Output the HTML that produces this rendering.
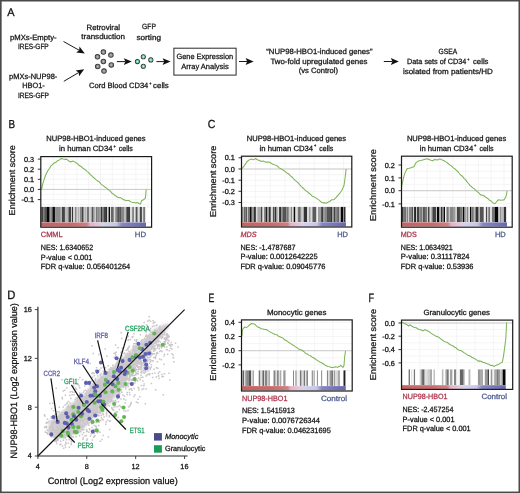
<!DOCTYPE html>
<html><head><meta charset="utf-8"><title>Figure</title>
<style>html,body{margin:0;padding:0;background:#fff;}body{width:520px;height:493px;overflow:hidden;font-family:"Liberation Sans",sans-serif;}svg{display:block;will-change:transform;}</style>
</head><body>
<svg width="520" height="493" viewBox="0 0 520 493" font-family='"Liberation Sans", sans-serif' text-rendering="geometricPrecision"><style>text{stroke-width:0.27px}</style><defs><radialGradient id="gcell" cx="0.5" cy="0.5" r="0.5">
<stop offset="0" stop-color="#c4c4c4"/><stop offset="0.45" stop-color="#8e8e8e"/><stop offset="0.72" stop-color="#5c5c5c"/><stop offset="0.86" stop-color="#303030"/><stop offset="1" stop-color="#2a2a2a"/></radialGradient><radialGradient id="tcell" cx="0.5" cy="0.5" r="0.5">
<stop offset="0" stop-color="#d8f6e8"/><stop offset="0.4" stop-color="#86d2b2"/><stop offset="0.68" stop-color="#4f9a7e"/><stop offset="0.8" stop-color="#2c3c34"/><stop offset="1" stop-color="#222"/></radialGradient><linearGradient id="cbar" x1="0" x2="1" y1="0" y2="0">
<stop offset="0" stop-color="#c66262"/><stop offset="0.30" stop-color="#ca6c6c"/><stop offset="0.44" stop-color="#d27e84"/>
<stop offset="0.47" stop-color="#e4b2c8"/><stop offset="0.55" stop-color="#e6c4dc"/><stop offset="0.59" stop-color="#d6d2ec"/>
<stop offset="0.72" stop-color="#c6c6e6"/><stop offset="0.77" stop-color="#8686c4"/><stop offset="1" stop-color="#6868b2"/></linearGradient><filter id="cblur" x="-10%" y="-10%" width="120%" height="120%"><feGaussianBlur stdDeviation="1.2"/></filter></defs><rect x="0" y="0" width="520" height="493" fill="#ffffff" />
<text x="7.3" y="15.9" font-size="11.2" fill="#141414" stroke="#141414" textLength="7.3" lengthAdjust="spacingAndGlyphs" style="stroke-width:0.3px">A</text>
<text x="10" y="39.5" font-size="7.6" fill="#141414" stroke="#141414" textLength="46.6" lengthAdjust="spacingAndGlyphs" >pMXs-Empty-</text>
<text x="18" y="48.9" font-size="7.6" fill="#141414" stroke="#141414" textLength="30.7" lengthAdjust="spacingAndGlyphs" >IRES-GFP</text>
<text x="9" y="79" font-size="7.6" fill="#141414" stroke="#141414" textLength="48.3" lengthAdjust="spacingAndGlyphs" >pMXs-NUP98-</text>
<text x="22.2" y="88.4" font-size="7.6" fill="#141414" stroke="#141414" textLength="22.6" lengthAdjust="spacingAndGlyphs" >HBO1-</text>
<text x="17.9" y="98.4" font-size="7.6" fill="#141414" stroke="#141414" textLength="31.1" lengthAdjust="spacingAndGlyphs" >IRES-GFP</text>
<text x="86.5" y="29.8" font-size="7.6" fill="#141414" stroke="#141414" textLength="33.5" lengthAdjust="spacingAndGlyphs" >Retroviral</text>
<text x="81.3" y="39.3" font-size="7.6" fill="#141414" stroke="#141414" textLength="43.7" lengthAdjust="spacingAndGlyphs" >transduction</text>
<text x="142.1" y="29.4" font-size="7.6" fill="#141414" stroke="#141414" textLength="13.8" lengthAdjust="spacingAndGlyphs" >GFP</text>
<text x="136.5" y="39.5" font-size="7.6" fill="#141414" stroke="#141414" textLength="24.5" lengthAdjust="spacingAndGlyphs" >sorting</text>
<text x="89" y="87.7" font-size="7.6" fill="#141414" stroke="#141414" textLength="59.3" lengthAdjust="spacingAndGlyphs" >Cord Blood CD34</text>
<text x="149.2" y="84.6" font-size="4.5" fill="#141414" stroke="#141414" textLength="2.2" lengthAdjust="spacingAndGlyphs" >+</text>
<text x="153.1" y="87.7" font-size="7.6" fill="#141414" stroke="#141414" textLength="15.7" lengthAdjust="spacingAndGlyphs" >cells</text>
<text x="176.4" y="59" font-size="7.6" fill="#141414" stroke="#141414" textLength="56.8" lengthAdjust="spacingAndGlyphs" >Gene Expression</text>
<text x="181.2" y="69.1" font-size="7.6" fill="#141414" stroke="#141414" textLength="47.6" lengthAdjust="spacingAndGlyphs" >Array Analysis</text>
<text x="266.3" y="54.1" font-size="7.6" fill="#141414" stroke="#141414" textLength="106.2" lengthAdjust="spacingAndGlyphs" >“NUP98-HBO1-induced genes”</text>
<text x="270.4" y="63.9" font-size="7.6" fill="#141414" stroke="#141414" textLength="97.1" lengthAdjust="spacingAndGlyphs" >Two-fold upregulated genes</text>
<text x="298.7" y="72.6" font-size="7.6" fill="#141414" stroke="#141414" textLength="39.3" lengthAdjust="spacingAndGlyphs" >(vs Control)</text>
<text x="438.5" y="54" font-size="7.6" fill="#141414" stroke="#141414" textLength="18.6" lengthAdjust="spacingAndGlyphs" >GSEA</text>
<text x="407.1" y="64.4" font-size="7.6" fill="#141414" stroke="#141414" textLength="59.2" lengthAdjust="spacingAndGlyphs" >Data sets of CD34</text>
<text x="467.2" y="61.3" font-size="4.5" fill="#141414" stroke="#141414" textLength="2.2" lengthAdjust="spacingAndGlyphs" >+</text>
<text x="473" y="64.4" font-size="7.6" fill="#141414" stroke="#141414" textLength="15.5" lengthAdjust="spacingAndGlyphs" >cells</text>
<text x="402.9" y="73.7" font-size="7.6" fill="#141414" stroke="#141414" textLength="89.8" lengthAdjust="spacingAndGlyphs" >isolated from patients/HD</text>
<rect x="173.9" y="48.2" width="62.2" height="26.9" fill="none" stroke="#2a2a2a" stroke-width="1"/>
<line x1="63.5" y1="41.5" x2="79.21" y2="50.28" stroke="#1a1a1a" stroke-width="1" />
<polygon points="84.8,53.4 76.16,52.47 79.21,50.28 79.47,46.53" fill="#111"/>
<line x1="63.8" y1="81.3" x2="78.68" y2="72.54" stroke="#1a1a1a" stroke-width="1" />
<polygon points="84.2,69.3 79.03,76.29 78.68,72.54 75.58,70.43" fill="#111"/>
<line x1="116.8" y1="61.6" x2="125.4" y2="61.6" stroke="#1a1a1a" stroke-width="1" />
<polygon points="131.8,61.6 123.8,65 125.4,61.6 123.8,58.2" fill="#111"/>
<line x1="156.4" y1="61.6" x2="164.2" y2="61.6" stroke="#1a1a1a" stroke-width="1" />
<polygon points="170.6,61.6 162.6,65 164.2,61.6 162.6,58.2" fill="#111"/>
<line x1="239" y1="61.5" x2="247.2" y2="61.5" stroke="#1a1a1a" stroke-width="1" />
<polygon points="253.6,61.5 245.6,64.9 247.2,61.5 245.6,58.1" fill="#111"/>
<line x1="383.8" y1="61.5" x2="392.4" y2="61.5" stroke="#1a1a1a" stroke-width="1" />
<polygon points="398.8,61.5 390.8,64.9 392.4,61.5 390.8,58.1" fill="#111"/>
<circle cx="103.4" cy="52.1" r="2.75" fill="url(#gcell)"/>
<circle cx="110.9" cy="55.1" r="2.75" fill="url(#gcell)"/>
<circle cx="97.5" cy="56.8" r="2.75" fill="url(#gcell)"/>
<circle cx="103.4" cy="61.5" r="2.75" fill="url(#gcell)"/>
<circle cx="111.3" cy="64.9" r="2.75" fill="url(#gcell)"/>
<circle cx="97.7" cy="66.5" r="2.75" fill="url(#gcell)"/>
<circle cx="104" cy="71.1" r="2.75" fill="url(#gcell)"/>
<circle cx="143.3" cy="56.8" r="2.55" fill="url(#tcell)"/>
<circle cx="137.4" cy="61.6" r="2.55" fill="url(#tcell)"/>
<circle cx="150.8" cy="59.9" r="2.55" fill="url(#tcell)"/>
<circle cx="143.3" cy="66.3" r="2.55" fill="url(#tcell)"/>
<text x="8.5" y="127.9" font-size="11.6" fill="#141414" stroke="#141414" textLength="6.6" lengthAdjust="spacingAndGlyphs" style="stroke-width:0.3px">B</text>
<text x="46.3" y="141.1" font-size="7.6" fill="#141414" stroke="#141414" textLength="99.3" lengthAdjust="spacingAndGlyphs" >NUP98-HBO1-induced genes</text>
<text x="59" y="151.3" font-size="7.6" fill="#141414" stroke="#141414" textLength="53.5" lengthAdjust="spacingAndGlyphs" >in human CD34</text>
<text x="113.4" y="148" font-size="4.6" fill="#141414" stroke="#141414" textLength="2.3" lengthAdjust="spacingAndGlyphs" >+</text>
<text x="118.8" y="151.3" font-size="7.6" fill="#141414" stroke="#141414" textLength="14.1" lengthAdjust="spacingAndGlyphs" >cells</text>
<text transform="translate(14.6,215.4) rotate(-90)" x="0" y="0" font-size="8.6" fill="#141414" stroke="#141414" textLength="70.3" lengthAdjust="spacingAndGlyphs" >Enrichment score</text>
<rect x="40.8" y="156.6" width="110.8" height="70.6" fill="#ffffff" />
<path d="M53.3 156.6V206.9 M65.1 156.6V206.9 M76.9 156.6V206.9 M88.7 156.6V206.9 M100.5 156.6V206.9 M112.3 156.6V206.9 M124.1 156.6V206.9 M135.9 156.6V206.9 M147.7 156.6V206.9 M40.8 159.1H151.6 M40.8 164.15H151.6 M40.8 169.2H151.6 M40.8 174.25H151.6 M40.8 179.3H151.6 M40.8 184.35H151.6 M40.8 189.4H151.6 M40.8 194.45H151.6 M40.8 199.5H151.6 M40.8 204.55H151.6" stroke="#f0f0f0" stroke-width="0.7" fill="none"/>
<line x1="40.8" y1="189.4" x2="151.6" y2="189.4" stroke="#cacaca" stroke-width="1" />
<line x1="146" y1="206.9" x2="151.6" y2="206.9" stroke="#e4e4e4" stroke-width="0.5" />
<line x1="146" y1="222.3" x2="151.6" y2="222.3" stroke="#e4e4e4" stroke-width="0.5" />
<rect x="40.8" y="206.9" width="0.66" height="15.4" fill="rgb(51,51,51)" />
<rect x="41.4" y="206.9" width="1.76" height="15.4" fill="rgb(68,68,68)" />
<rect x="43.1" y="206.9" width="1.16" height="15.4" fill="rgb(119,119,119)" />
<rect x="44.2" y="206.9" width="2.76" height="15.4" fill="rgb(84,84,84)" />
<rect x="46.9" y="206.9" width="2.16" height="15.4" fill="rgb(7,7,7)" />
<rect x="49" y="206.9" width="1.36" height="15.4" fill="rgb(102,102,102)" />
<rect x="50.3" y="206.9" width="1.06" height="15.4" fill="rgb(140,140,140)" />
<rect x="51.3" y="206.9" width="1.26" height="15.4" fill="rgb(102,102,102)" />
<rect x="52.5" y="206.9" width="2.46" height="15.4" fill="rgb(7,7,7)" />
<rect x="54.9" y="206.9" width="0.76" height="15.4" fill="rgb(102,102,102)" />
<rect x="55.6" y="206.9" width="5.26" height="15.4" fill="rgb(142,142,142)" />
<rect x="60.8" y="206.9" width="1.06" height="15.4" fill="rgb(204,204,204)" />
<rect x="61.8" y="206.9" width="3.16" height="15.4" fill="rgb(68,68,68)" />
<rect x="64.9" y="206.9" width="2.86" height="15.4" fill="rgb(186,186,186)" />
<rect x="67.7" y="206.9" width="1.36" height="15.4" fill="rgb(135,135,135)" />
<rect x="69" y="206.9" width="2.26" height="15.4" fill="rgb(68,68,68)" />
<rect x="71.2" y="206.9" width="1.06" height="15.4" fill="rgb(204,204,204)" />
<rect x="72.2" y="206.9" width="1.06" height="15.4" fill="rgb(7,7,7)" />
<rect x="73.2" y="206.9" width="1.86" height="15.4" fill="rgb(216,216,216)" />
<rect x="75" y="206.9" width="1.76" height="15.4" fill="rgb(135,135,135)" />
<rect x="76.7" y="206.9" width="1.16" height="15.4" fill="rgb(219,219,219)" />
<rect x="77.8" y="206.9" width="1.06" height="15.4" fill="rgb(153,153,153)" />
<rect x="78.8" y="206.9" width="1.06" height="15.4" fill="rgb(219,219,219)" />
<rect x="79.8" y="206.9" width="1.86" height="15.4" fill="rgb(135,135,135)" />
<rect x="81.6" y="206.9" width="2.16" height="15.4" fill="rgb(68,68,68)" />
<rect x="83.7" y="206.9" width="1.06" height="15.4" fill="rgb(219,219,219)" />
<rect x="84.7" y="206.9" width="1.06" height="15.4" fill="rgb(135,135,135)" />
<rect x="85.7" y="206.9" width="1.16" height="15.4" fill="rgb(219,219,219)" />
<rect x="86.8" y="206.9" width="2.46" height="15.4" fill="rgb(119,119,119)" />
<rect x="89.2" y="206.9" width="2.46" height="15.4" fill="rgb(204,204,204)" />
<rect x="91.6" y="206.9" width="1.86" height="15.4" fill="rgb(84,84,84)" />
<rect x="93.4" y="206.9" width="1.36" height="15.4" fill="rgb(135,135,135)" />
<rect x="94.7" y="206.9" width="1.16" height="15.4" fill="rgb(219,219,219)" />
<rect x="95.8" y="206.9" width="1.46" height="15.4" fill="rgb(119,119,119)" />
<rect x="97.2" y="206.9" width="1.76" height="15.4" fill="rgb(135,135,135)" />
<rect x="98.9" y="206.9" width="2.16" height="15.4" fill="rgb(153,153,153)" />
<rect x="101" y="206.9" width="1.06" height="15.4" fill="rgb(51,51,51)" />
<rect x="102" y="206.9" width="1.46" height="15.4" fill="rgb(135,135,135)" />
<rect x="103.4" y="206.9" width="2.86" height="15.4" fill="rgb(68,68,68)" />
<rect x="106.2" y="206.9" width="1.06" height="15.4" fill="rgb(7,7,7)" />
<rect x="107.2" y="206.9" width="1.46" height="15.4" fill="rgb(219,219,219)" />
<rect x="108.6" y="206.9" width="1.46" height="15.4" fill="rgb(7,7,7)" />
<rect x="110" y="206.9" width="1.06" height="15.4" fill="rgb(219,219,219)" />
<rect x="111" y="206.9" width="2.86" height="15.4" fill="rgb(102,102,102)" />
<rect x="113.8" y="206.9" width="1.46" height="15.4" fill="rgb(219,219,219)" />
<rect x="115.2" y="206.9" width="2.46" height="15.4" fill="rgb(135,135,135)" />
<rect x="117.6" y="206.9" width="1.16" height="15.4" fill="rgb(7,7,7)" />
<rect x="118.7" y="206.9" width="1.06" height="15.4" fill="rgb(119,119,119)" />
<rect x="119.7" y="206.9" width="1.06" height="15.4" fill="rgb(7,7,7)" />
<rect x="120.7" y="206.9" width="3.86" height="15.4" fill="rgb(135,135,135)" />
<rect x="124.5" y="206.9" width="1.86" height="15.4" fill="rgb(186,186,186)" />
<rect x="126.3" y="206.9" width="3.86" height="15.4" fill="rgb(63,63,63)" />
<rect x="130.1" y="206.9" width="2.16" height="15.4" fill="rgb(219,219,219)" />
<rect x="132.2" y="206.9" width="1.76" height="15.4" fill="rgb(119,119,119)" />
<rect x="133.9" y="206.9" width="1.76" height="15.4" fill="rgb(229,229,229)" />
<rect x="135.6" y="206.9" width="2.16" height="15.4" fill="rgb(84,84,84)" />
<rect x="137.7" y="206.9" width="2.16" height="15.4" fill="rgb(219,219,219)" />
<rect x="139.8" y="206.9" width="2.16" height="15.4" fill="rgb(68,68,68)" />
<rect x="141.9" y="206.9" width="1.36" height="15.4" fill="rgb(219,219,219)" />
<rect x="143.2" y="206.9" width="1.86" height="15.4" fill="rgb(119,119,119)" />
<rect x="145" y="206.9" width="1.06" height="15.4" fill="rgb(229,229,229)" />
<rect x="40.8" y="222.5" width="105.2" height="4.1" fill="url(#cbar)" />
<polyline points="40.8,189.4 41.7,188.56 42.9,183.45 44,179.78 45.8,174.77 48.1,170.21 49.55,168.23 51,165.82 52.4,164.66 53.8,163.32 56.2,162.06 57.6,160.68 59,160.12 61.3,158.43 63.1,159.08 65.4,159.37 66.85,159.34 68.3,160.73 70.6,161.92 72.9,161.04 74.6,161.9 76.13,162.73 77.67,163.83 79.2,165.53 80.73,166.27 82.27,167.55 83.8,168.77 85.37,169.74 86.93,171.3 88.5,172.45 90.03,174.34 91.57,175.58 93.1,177.23 94.63,178.43 96.17,179.91 97.7,181.06 99.2,181.7 100.63,183.58 102.07,184.81 103.5,185.91 104.9,187.02 106.3,187.9 107.7,189.06 109.1,190.34 110.5,191.38 111.9,193.24 113.33,193.98 114.77,195.45 116.2,196.1 117.6,197.25 119,197.78 120.4,197.65 121.8,198.44 123.2,199.67 124.6,199.87 126.03,200.67 127.47,200.47 128.9,200.52 131.5,202.12 132.85,202.6 134.2,202.49 135.7,203.03 137.3,202.55 139.4,203.82 140.5,204.03 141.6,200.56 143.1,199.97 144.2,199.24 145.3,198.1 145.8,194 146.2,189.4" fill="none" stroke="#7db457" stroke-width="1.05" stroke-linejoin="round"/>
<rect x="40.8" y="156.6" width="110.8" height="70.6" fill="none" stroke="#1a1a1a" stroke-width="1.2"/>
<line x1="37.8" y1="159.1" x2="40.8" y2="159.1" stroke="#1a1a1a" stroke-width="0.9" />
<text x="34.2" y="161.7" font-size="7.3" fill="#141414" stroke="#141414" text-anchor="end" >0.3</text>
<line x1="37.8" y1="169.2" x2="40.8" y2="169.2" stroke="#1a1a1a" stroke-width="0.9" />
<text x="34.2" y="171.8" font-size="7.3" fill="#141414" stroke="#141414" text-anchor="end" >0.2</text>
<line x1="37.8" y1="179.3" x2="40.8" y2="179.3" stroke="#1a1a1a" stroke-width="0.9" />
<text x="34.2" y="181.9" font-size="7.3" fill="#141414" stroke="#141414" text-anchor="end" >0.1</text>
<line x1="37.8" y1="189.4" x2="40.8" y2="189.4" stroke="#1a1a1a" stroke-width="0.9" />
<text x="34.2" y="192" font-size="7.3" fill="#141414" stroke="#141414" text-anchor="end" >0.0</text>
<line x1="37.8" y1="199.6" x2="40.8" y2="199.6" stroke="#1a1a1a" stroke-width="0.9" />
<text x="34.2" y="202.2" font-size="7.3" fill="#141414" stroke="#141414" text-anchor="end" >-0.1</text>
<text x="40.8" y="237.2" font-size="7.6" fill="#a8344c" stroke="#a8344c" textLength="21.8" lengthAdjust="spacingAndGlyphs" >CMML</text>
<text x="134.8" y="237.2" font-size="7.6" fill="#4b5a8e" stroke="#4b5a8e" textLength="11.2" lengthAdjust="spacingAndGlyphs" >HD</text>
<text x="40.8" y="250" font-size="7.6" fill="#141414" stroke="#141414" textLength="52.3" lengthAdjust="spacingAndGlyphs" >NES: 1.6340652</text>
<text x="40.8" y="259.6" font-size="7.6" fill="#141414" stroke="#141414" textLength="51.5" lengthAdjust="spacingAndGlyphs" >P-value &lt; 0.001</text>
<text x="40.8" y="268.8" font-size="7.6" fill="#141414" stroke="#141414" textLength="89.4" lengthAdjust="spacingAndGlyphs" >FDR q-value: 0.056401264</text>
<text x="207.8" y="128.1" font-size="11.7" fill="#141414" stroke="#141414" textLength="7.6" lengthAdjust="spacingAndGlyphs" style="stroke-width:0.3px">C</text>
<text x="246.8" y="140.9" font-size="7.6" fill="#141414" stroke="#141414" textLength="99.3" lengthAdjust="spacingAndGlyphs" >NUP98-HBO1-induced genes</text>
<text x="259.6" y="150.6" font-size="7.6" fill="#141414" stroke="#141414" textLength="53.5" lengthAdjust="spacingAndGlyphs" >in human CD34</text>
<text x="314" y="147.3" font-size="4.6" fill="#141414" stroke="#141414" textLength="2.3" lengthAdjust="spacingAndGlyphs" >+</text>
<text x="319.3" y="150.6" font-size="7.6" fill="#141414" stroke="#141414" textLength="14.1" lengthAdjust="spacingAndGlyphs" >cells</text>
<text transform="translate(215.8,217.1) rotate(-90)" x="0" y="0" font-size="8.6" fill="#141414" stroke="#141414" textLength="71.4" lengthAdjust="spacingAndGlyphs" >Enrichment score</text>
<rect x="241.5" y="156.2" width="110.3" height="70.8" fill="#ffffff" />
<path d="M255.6 156.2V206.9 M270.25 156.2V206.9 M284.9 156.2V206.9 M299.55 156.2V206.9 M314.2 156.2V206.9 M328.85 156.2V206.9 M343.5 156.2V206.9 M241.5 157.8H351.8 M241.5 163.4H351.8 M241.5 169H351.8 M241.5 174.6H351.8 M241.5 180.2H351.8 M241.5 185.8H351.8 M241.5 191.4H351.8 M241.5 197H351.8 M241.5 202.6H351.8" stroke="#f0f0f0" stroke-width="0.7" fill="none"/>
<line x1="241.5" y1="169" x2="351.8" y2="169" stroke="#cacaca" stroke-width="1" />
<line x1="346" y1="206.9" x2="351.8" y2="206.9" stroke="#e4e4e4" stroke-width="0.5" />
<line x1="346" y1="222.1" x2="351.8" y2="222.1" stroke="#e4e4e4" stroke-width="0.5" />
<rect x="241.5" y="206.9" width="0.56" height="15.2" fill="rgb(25,25,25)" />
<rect x="242" y="206.9" width="0.76" height="15.2" fill="rgb(51,51,51)" />
<rect x="242.7" y="206.9" width="1.16" height="15.2" fill="rgb(204,204,204)" />
<rect x="243.8" y="206.9" width="1.06" height="15.2" fill="rgb(68,68,68)" />
<rect x="244.8" y="206.9" width="1.06" height="15.2" fill="rgb(135,135,135)" />
<rect x="245.8" y="206.9" width="1.16" height="15.2" fill="rgb(68,68,68)" />
<rect x="246.9" y="206.9" width="1.06" height="15.2" fill="rgb(204,204,204)" />
<rect x="247.9" y="206.9" width="2.16" height="15.2" fill="rgb(119,119,119)" />
<rect x="250" y="206.9" width="1.76" height="15.2" fill="rgb(12,12,12)" />
<rect x="251.7" y="206.9" width="2.16" height="15.2" fill="rgb(153,153,153)" />
<rect x="253.8" y="206.9" width="2.16" height="15.2" fill="rgb(51,51,51)" />
<rect x="255.9" y="206.9" width="1.46" height="15.2" fill="rgb(219,219,219)" />
<rect x="257.3" y="206.9" width="3.86" height="15.2" fill="rgb(168,168,168)" />
<rect x="261.1" y="206.9" width="1.46" height="15.2" fill="rgb(51,51,51)" />
<rect x="262.5" y="206.9" width="1.46" height="15.2" fill="rgb(234,234,234)" />
<rect x="263.9" y="206.9" width="1.76" height="15.2" fill="rgb(135,135,135)" />
<rect x="265.6" y="206.9" width="1.76" height="15.2" fill="rgb(33,33,33)" />
<rect x="267.3" y="206.9" width="1.76" height="15.2" fill="rgb(153,153,153)" />
<rect x="269" y="206.9" width="1.86" height="15.2" fill="rgb(51,51,51)" />
<rect x="270.8" y="206.9" width="2.16" height="15.2" fill="rgb(219,219,219)" />
<rect x="272.9" y="206.9" width="1.06" height="15.2" fill="rgb(68,68,68)" />
<rect x="273.9" y="206.9" width="1.16" height="15.2" fill="rgb(135,135,135)" />
<rect x="275" y="206.9" width="1.06" height="15.2" fill="rgb(51,51,51)" />
<rect x="276" y="206.9" width="1.76" height="15.2" fill="rgb(153,153,153)" />
<rect x="277.7" y="206.9" width="1.46" height="15.2" fill="rgb(219,219,219)" />
<rect x="279.1" y="206.9" width="2.16" height="15.2" fill="rgb(51,51,51)" />
<rect x="281.2" y="206.9" width="1.76" height="15.2" fill="rgb(135,135,135)" />
<rect x="282.9" y="206.9" width="3.56" height="15.2" fill="rgb(84,84,84)" />
<rect x="286.4" y="206.9" width="2.46" height="15.2" fill="rgb(119,119,119)" />
<rect x="288.8" y="206.9" width="2.16" height="15.2" fill="rgb(204,204,204)" />
<rect x="290.9" y="206.9" width="1.46" height="15.2" fill="rgb(135,135,135)" />
<rect x="292.3" y="206.9" width="1.46" height="15.2" fill="rgb(219,219,219)" />
<rect x="293.7" y="206.9" width="1.76" height="15.2" fill="rgb(7,7,7)" />
<rect x="295.4" y="206.9" width="2.46" height="15.2" fill="rgb(219,219,219)" />
<rect x="297.8" y="206.9" width="1.46" height="15.2" fill="rgb(119,119,119)" />
<rect x="299.2" y="206.9" width="1.46" height="15.2" fill="rgb(84,84,84)" />
<rect x="300.6" y="206.9" width="1.06" height="15.2" fill="rgb(153,153,153)" />
<rect x="301.6" y="206.9" width="2.16" height="15.2" fill="rgb(204,204,204)" />
<rect x="303.7" y="206.9" width="3.56" height="15.2" fill="rgb(51,51,51)" />
<rect x="307.2" y="206.9" width="2.06" height="15.2" fill="rgb(219,219,219)" />
<rect x="309.2" y="206.9" width="1.46" height="15.2" fill="rgb(135,135,135)" />
<rect x="310.6" y="206.9" width="1.46" height="15.2" fill="rgb(219,219,219)" />
<rect x="312" y="206.9" width="0.56" height="15.2" fill="rgb(186,186,186)" />
<rect x="312.5" y="206.9" width="4.06" height="15.2" fill="rgb(91,91,91)" />
<rect x="316.5" y="206.9" width="1.46" height="15.2" fill="rgb(249,249,249)" />
<rect x="317.9" y="206.9" width="3.56" height="15.2" fill="rgb(158,158,158)" />
<rect x="321.4" y="206.9" width="1.46" height="15.2" fill="rgb(7,7,7)" />
<rect x="322.8" y="206.9" width="1.46" height="15.2" fill="rgb(153,153,153)" />
<rect x="324.2" y="206.9" width="2.76" height="15.2" fill="rgb(135,135,135)" />
<rect x="326.9" y="206.9" width="4.26" height="15.2" fill="rgb(84,84,84)" />
<rect x="331.1" y="206.9" width="1.06" height="15.2" fill="rgb(33,33,33)" />
<rect x="332.1" y="206.9" width="1.86" height="15.2" fill="rgb(153,153,153)" />
<rect x="333.9" y="206.9" width="1.06" height="15.2" fill="rgb(51,51,51)" />
<rect x="334.9" y="206.9" width="2.86" height="15.2" fill="rgb(135,135,135)" />
<rect x="337.7" y="206.9" width="1.06" height="15.2" fill="rgb(7,7,7)" />
<rect x="338.7" y="206.9" width="2.16" height="15.2" fill="rgb(186,186,186)" />
<rect x="340.8" y="206.9" width="2.46" height="15.2" fill="rgb(7,7,7)" />
<rect x="343.2" y="206.9" width="1.06" height="15.2" fill="rgb(135,135,135)" />
<rect x="344.2" y="206.9" width="1.46" height="15.2" fill="rgb(7,7,7)" />
<rect x="345.6" y="206.9" width="0.46" height="15.2" fill="rgb(249,249,249)" />
<rect x="241.5" y="222.3" width="104.5" height="4.1" fill="url(#cbar)" />
<polyline points="241.5,168.9 241.7,168.78 243.15,167.1 244.6,165.35 246.9,161.73 249.2,159.88 251,159.13 252.7,159.53 253.8,159.67 255.6,158.52 257.3,159.75 259.6,160.45 261.3,161.46 263.1,161.07 264.8,161.73 266.25,162.29 267.7,162.03 270,162.31 272.3,164.01 274.6,164.87 276.9,165.7 279.2,167.85 281.5,169.08 283.25,170.29 285,171.41 286.75,172.97 288.5,173.68 290.2,175.68 291.9,176.98 293.65,178.86 295.4,180.64 296.8,181.7 298.2,182.86 299.6,184.58 301.13,186.33 302.67,187.75 304.2,189.15 305.73,190.69 307.27,191.65 308.8,193.01 310.55,194.44 312.3,196.18 313.83,196.66 315.37,197.62 316.9,198.64 318.43,199.65 319.97,200.93 321.5,202.27 323.07,202.86 324.63,202.78 326.2,203.18 327.9,202.31 329.6,201.52 331.9,199.65 333.7,199.84 336,197.68 338.3,194.85 340.6,192.36 342.3,189.39 344,185.5 344.8,180 345.8,171.9 346.2,169" fill="none" stroke="#7db457" stroke-width="1.05" stroke-linejoin="round"/>
<rect x="241.5" y="156.2" width="110.3" height="70.8" fill="none" stroke="#1a1a1a" stroke-width="1.2"/>
<line x1="238.5" y1="157.8" x2="241.5" y2="157.8" stroke="#1a1a1a" stroke-width="0.9" />
<text x="234.9" y="160.4" font-size="7.3" fill="#141414" stroke="#141414" text-anchor="end" >0.1</text>
<line x1="238.5" y1="169" x2="241.5" y2="169" stroke="#1a1a1a" stroke-width="0.9" />
<text x="234.9" y="171.6" font-size="7.3" fill="#141414" stroke="#141414" text-anchor="end" >0.0</text>
<line x1="238.5" y1="180.2" x2="241.5" y2="180.2" stroke="#1a1a1a" stroke-width="0.9" />
<text x="234.9" y="182.8" font-size="7.3" fill="#141414" stroke="#141414" text-anchor="end" >-0.1</text>
<line x1="238.5" y1="191.3" x2="241.5" y2="191.3" stroke="#1a1a1a" stroke-width="0.9" />
<text x="234.9" y="193.9" font-size="7.3" fill="#141414" stroke="#141414" text-anchor="end" >-0.2</text>
<line x1="238.5" y1="202.5" x2="241.5" y2="202.5" stroke="#1a1a1a" stroke-width="0.9" />
<text x="234.9" y="205.1" font-size="7.3" fill="#141414" stroke="#141414" text-anchor="end" >-0.3</text>
<text x="240.6" y="237.2" font-size="7.6" fill="#a8344c" stroke="#a8344c" textLength="16" lengthAdjust="spacingAndGlyphs" font-style="italic" >MDS</text>
<text x="337.2" y="237.2" font-size="7.6" fill="#4b5a8e" stroke="#4b5a8e" textLength="10.8" lengthAdjust="spacingAndGlyphs" >HD</text>
<text x="240.4" y="249.6" font-size="7.6" fill="#141414" stroke="#141414" textLength="55.2" lengthAdjust="spacingAndGlyphs" >NES: -1.4787687</text>
<text x="240.4" y="259.2" font-size="7.6" fill="#141414" stroke="#141414" textLength="77.3" lengthAdjust="spacingAndGlyphs" >P-value: 0.0012642225</text>
<text x="240.4" y="268.8" font-size="7.6" fill="#141414" stroke="#141414" textLength="85" lengthAdjust="spacingAndGlyphs" >FDR q-value: 0.09045776</text>
<text x="406.9" y="140.9" font-size="7.6" fill="#141414" stroke="#141414" textLength="99.3" lengthAdjust="spacingAndGlyphs" >NUP98-HBO1-induced genes</text>
<text x="419.7" y="150.5" font-size="7.6" fill="#141414" stroke="#141414" textLength="53.5" lengthAdjust="spacingAndGlyphs" >in human CD34</text>
<text x="474.1" y="147.2" font-size="4.6" fill="#141414" stroke="#141414" textLength="2.3" lengthAdjust="spacingAndGlyphs" >+</text>
<text x="479.4" y="150.5" font-size="7.6" fill="#141414" stroke="#141414" textLength="14.1" lengthAdjust="spacingAndGlyphs" >cells</text>
<text transform="translate(376.2,221.1) rotate(-90)" x="0" y="0" font-size="8.6" fill="#141414" stroke="#141414" textLength="72" lengthAdjust="spacingAndGlyphs" >Enrichment score</text>
<rect x="401.5" y="156.2" width="110.7" height="71" fill="#ffffff" />
<path d="M414.4 156.2V206.9 M427.2 156.2V206.9 M440 156.2V206.9 M452.8 156.2V206.9 M465.6 156.2V206.9 M478.4 156.2V206.9 M491.2 156.2V206.9 M504 156.2V206.9 M401.5 158.55H512.2 M401.5 165H512.2 M401.5 171.45H512.2 M401.5 177.9H512.2 M401.5 184.35H512.2 M401.5 190.8H512.2 M401.5 197.25H512.2 M401.5 203.7H512.2" stroke="#f0f0f0" stroke-width="0.7" fill="none"/>
<line x1="401.5" y1="190.7" x2="512.2" y2="190.7" stroke="#cacaca" stroke-width="1" />
<line x1="507" y1="206.9" x2="512.2" y2="206.9" stroke="#e4e4e4" stroke-width="0.5" />
<line x1="507" y1="222.2" x2="512.2" y2="222.2" stroke="#e4e4e4" stroke-width="0.5" />
<rect x="401.5" y="206.9" width="0.56" height="15.3" fill="rgb(25,25,25)" />
<rect x="402" y="206.9" width="1.46" height="15.3" fill="rgb(51,51,51)" />
<rect x="403.4" y="206.9" width="1.16" height="15.3" fill="rgb(102,102,102)" />
<rect x="404.5" y="206.9" width="1.36" height="15.3" fill="rgb(68,68,68)" />
<rect x="405.8" y="206.9" width="1.16" height="15.3" fill="rgb(186,186,186)" />
<rect x="406.9" y="206.9" width="1.06" height="15.3" fill="rgb(119,119,119)" />
<rect x="407.9" y="206.9" width="1.16" height="15.3" fill="rgb(204,204,204)" />
<rect x="409" y="206.9" width="2.46" height="15.3" fill="rgb(135,135,135)" />
<rect x="411.4" y="206.9" width="1.76" height="15.3" fill="rgb(84,84,84)" />
<rect x="413.1" y="206.9" width="1.16" height="15.3" fill="rgb(204,204,204)" />
<rect x="414.2" y="206.9" width="1.76" height="15.3" fill="rgb(7,7,7)" />
<rect x="415.9" y="206.9" width="1.06" height="15.3" fill="rgb(219,219,219)" />
<rect x="416.9" y="206.9" width="2.56" height="15.3" fill="rgb(68,68,68)" />
<rect x="419.4" y="206.9" width="1.06" height="15.3" fill="rgb(135,135,135)" />
<rect x="420.4" y="206.9" width="1.46" height="15.3" fill="rgb(84,84,84)" />
<rect x="421.8" y="206.9" width="1.06" height="15.3" fill="rgb(186,186,186)" />
<rect x="422.8" y="206.9" width="2.16" height="15.3" fill="rgb(84,84,84)" />
<rect x="424.9" y="206.9" width="2.16" height="15.3" fill="rgb(119,119,119)" />
<rect x="427" y="206.9" width="1.06" height="15.3" fill="rgb(204,204,204)" />
<rect x="428" y="206.9" width="1.46" height="15.3" fill="rgb(68,68,68)" />
<rect x="429.4" y="206.9" width="1.06" height="15.3" fill="rgb(135,135,135)" />
<rect x="430.4" y="206.9" width="1.16" height="15.3" fill="rgb(219,219,219)" />
<rect x="431.5" y="206.9" width="1.06" height="15.3" fill="rgb(119,119,119)" />
<rect x="432.5" y="206.9" width="0.86" height="15.3" fill="rgb(68,68,68)" />
<rect x="433.3" y="206.9" width="0.76" height="15.3" fill="rgb(12,12,12)" />
<rect x="434" y="206.9" width="2.06" height="15.3" fill="rgb(68,68,68)" />
<rect x="436" y="206.9" width="1.06" height="15.3" fill="rgb(198,198,198)" />
<rect x="437" y="206.9" width="2.56" height="15.3" fill="rgb(7,7,7)" />
<rect x="439.5" y="206.9" width="1.36" height="15.3" fill="rgb(204,204,204)" />
<rect x="440.8" y="206.9" width="1.46" height="15.3" fill="rgb(51,51,51)" />
<rect x="442.2" y="206.9" width="1.86" height="15.3" fill="rgb(119,119,119)" />
<rect x="444" y="206.9" width="1.06" height="15.3" fill="rgb(7,7,7)" />
<rect x="445" y="206.9" width="1.46" height="15.3" fill="rgb(242,242,242)" />
<rect x="446.4" y="206.9" width="2.46" height="15.3" fill="rgb(119,119,119)" />
<rect x="448.8" y="206.9" width="1.06" height="15.3" fill="rgb(204,204,204)" />
<rect x="449.8" y="206.9" width="3.26" height="15.3" fill="rgb(135,135,135)" />
<rect x="453" y="206.9" width="2.76" height="15.3" fill="rgb(153,153,153)" />
<rect x="455.7" y="206.9" width="1.16" height="15.3" fill="rgb(242,242,242)" />
<rect x="456.8" y="206.9" width="3.16" height="15.3" fill="rgb(68,68,68)" />
<rect x="459.9" y="206.9" width="2.16" height="15.3" fill="rgb(119,119,119)" />
<rect x="462" y="206.9" width="0.76" height="15.3" fill="rgb(204,204,204)" />
<rect x="462.7" y="206.9" width="1.36" height="15.3" fill="rgb(7,7,7)" />
<rect x="464" y="206.9" width="1.86" height="15.3" fill="rgb(135,135,135)" />
<rect x="465.8" y="206.9" width="1.06" height="15.3" fill="rgb(204,204,204)" />
<rect x="466.8" y="206.9" width="1.76" height="15.3" fill="rgb(135,135,135)" />
<rect x="468.5" y="206.9" width="1.56" height="15.3" fill="rgb(219,219,219)" />
<rect x="470" y="206.9" width="1.36" height="15.3" fill="rgb(7,7,7)" />
<rect x="471.3" y="206.9" width="0.66" height="15.3" fill="rgb(127,127,127)" />
<rect x="471.9" y="206.9" width="1.96" height="15.3" fill="rgb(119,119,119)" />
<rect x="473.8" y="206.9" width="1.76" height="15.3" fill="rgb(186,186,186)" />
<rect x="475.5" y="206.9" width="3.16" height="15.3" fill="rgb(51,51,51)" />
<rect x="478.6" y="206.9" width="1.46" height="15.3" fill="rgb(186,186,186)" />
<rect x="480" y="206.9" width="3.86" height="15.3" fill="rgb(84,84,84)" />
<rect x="483.8" y="206.9" width="2.16" height="15.3" fill="rgb(242,242,242)" />
<rect x="485.9" y="206.9" width="1.06" height="15.3" fill="rgb(51,51,51)" />
<rect x="486.9" y="206.9" width="1.46" height="15.3" fill="rgb(204,204,204)" />
<rect x="488.3" y="206.9" width="2.16" height="15.3" fill="rgb(119,119,119)" />
<rect x="490.4" y="206.9" width="1.46" height="15.3" fill="rgb(242,242,242)" />
<rect x="491.8" y="206.9" width="3.16" height="15.3" fill="rgb(119,119,119)" />
<rect x="494.9" y="206.9" width="3.56" height="15.3" fill="rgb(7,7,7)" />
<rect x="498.4" y="206.9" width="1.76" height="15.3" fill="rgb(204,204,204)" />
<rect x="500.1" y="206.9" width="1.46" height="15.3" fill="rgb(135,135,135)" />
<rect x="501.5" y="206.9" width="2.46" height="15.3" fill="rgb(186,186,186)" />
<rect x="503.9" y="206.9" width="2.46" height="15.3" fill="rgb(51,51,51)" />
<rect x="506.3" y="206.9" width="0.76" height="15.3" fill="rgb(249,249,249)" />
<rect x="401.5" y="222.4" width="105.5" height="4.1" fill="url(#cbar)" />
<polyline points="401.5,190.8 401.7,186.16 402.9,180.43 404.6,173.91 406.3,170.11 407.5,168.4 409.2,168.31 410,168.12 412.3,167.28 414,166.83 415.2,164.15 416.3,162.36 418.7,160.89 421,160.6 422.7,160.09 425,159.21 427.3,158.75 429.6,159.71 431.05,160.32 432.5,160.8 434.8,159.53 436.25,159.67 437.7,160.01 439.8,158.87 442.3,160.08 444.6,161.09 446.35,162.16 448.1,163.53 449.8,164.92 451.5,165.88 453.07,167.66 454.63,168.71 456.2,170.23 457.73,171.39 459.27,173.51 460.8,175.27 462.5,176.31 464.2,178.57 465.63,179.84 467.07,181.9 468.5,183.49 469.9,185.36 471.3,186.47 472.7,187.86 474.1,188.48 475.5,190.16 476.9,191.38 478.75,192.91 480.6,194.97 481.95,195.11 483.3,195.2 484.9,196.75 486.5,197.68 488.05,198.69 489.6,200.31 491.2,201.09 492.8,202.75 494.9,203.75 497,201.25 498.6,199.73 500.7,200.33 502.3,199.93 503.9,200.06 505.5,197.5 506.6,194.3 507,190.8" fill="none" stroke="#7db457" stroke-width="1.05" stroke-linejoin="round"/>
<rect x="401.5" y="156.2" width="110.7" height="71" fill="none" stroke="#1a1a1a" stroke-width="1.2"/>
<line x1="398.5" y1="165" x2="401.5" y2="165" stroke="#1a1a1a" stroke-width="0.9" />
<text x="394.9" y="167.6" font-size="7.3" fill="#141414" stroke="#141414" text-anchor="end" >0.2</text>
<line x1="398.5" y1="177.9" x2="401.5" y2="177.9" stroke="#1a1a1a" stroke-width="0.9" />
<text x="394.9" y="180.5" font-size="7.3" fill="#141414" stroke="#141414" text-anchor="end" >0.1</text>
<line x1="398.5" y1="190.7" x2="401.5" y2="190.7" stroke="#1a1a1a" stroke-width="0.9" />
<text x="394.9" y="193.3" font-size="7.3" fill="#141414" stroke="#141414" text-anchor="end" >0.0</text>
<line x1="398.5" y1="203.9" x2="401.5" y2="203.9" stroke="#1a1a1a" stroke-width="0.9" />
<text x="394.9" y="206.5" font-size="7.3" fill="#141414" stroke="#141414" text-anchor="end" >-0.1</text>
<text x="400.8" y="237" font-size="7.6" fill="#a8344c" stroke="#a8344c" textLength="15.9" lengthAdjust="spacingAndGlyphs" >MDS</text>
<text x="494.9" y="237" font-size="7.6" fill="#4b5a8e" stroke="#4b5a8e" textLength="10.8" lengthAdjust="spacingAndGlyphs" >HD</text>
<text x="400.8" y="249.6" font-size="7.6" fill="#141414" stroke="#141414" textLength="51.9" lengthAdjust="spacingAndGlyphs" >NES: 1.0634921</text>
<text x="400.8" y="259.2" font-size="7.6" fill="#141414" stroke="#141414" textLength="68.8" lengthAdjust="spacingAndGlyphs" >P-value: 0.31117824</text>
<text x="400.8" y="268.8" font-size="7.6" fill="#141414" stroke="#141414" textLength="72.7" lengthAdjust="spacingAndGlyphs" >FDR q-value: 0.53936</text>
<text x="208.5" y="301.9" font-size="12.3" fill="#141414" stroke="#141414" textLength="5.8" lengthAdjust="spacingAndGlyphs" style="stroke-width:0.3px">E</text>
<text x="266.9" y="314.6" font-size="7.6" fill="#141414" stroke="#141414" textLength="59.6" lengthAdjust="spacingAndGlyphs" >Monocytic genes</text>
<text transform="translate(215.8,380.7) rotate(-90)" x="0" y="0" font-size="8.6" fill="#141414" stroke="#141414" textLength="71.6" lengthAdjust="spacingAndGlyphs" >Enrichment score</text>
<rect x="241.5" y="319.9" width="110.7" height="71.1" fill="#ffffff" />
<path d="M259.7 319.9V370.4 M278 319.9V370.4 M296.3 319.9V370.4 M314.6 319.9V370.4 M332.9 319.9V370.4 M241.5 322.3H352.2 M241.5 329.4H352.2 M241.5 336.5H352.2 M241.5 343.6H352.2 M241.5 350.7H352.2 M241.5 357.8H352.2 M241.5 364.9H352.2" stroke="#f0f0f0" stroke-width="0.7" fill="none"/>
<line x1="241.5" y1="350.7" x2="352.2" y2="350.7" stroke="#cacaca" stroke-width="1" />
<line x1="345.8" y1="370.4" x2="352.2" y2="370.4" stroke="#e4e4e4" stroke-width="0.5" />
<line x1="345.8" y1="385.9" x2="352.2" y2="385.9" stroke="#e4e4e4" stroke-width="0.5" />
<rect x="241.5" y="370.4" width="0.56" height="15.5" fill="rgb(153,153,153)" />
<rect x="242" y="370.4" width="1.16" height="15.5" fill="rgb(170,170,170)" />
<rect x="243.1" y="370.4" width="1.06" height="15.5" fill="rgb(84,84,84)" />
<rect x="244.1" y="370.4" width="1.16" height="15.5" fill="rgb(221,221,221)" />
<rect x="245.2" y="370.4" width="1.06" height="15.5" fill="rgb(153,153,153)" />
<rect x="246.2" y="370.4" width="2.46" height="15.5" fill="rgb(135,135,135)" />
<rect x="248.6" y="370.4" width="2.46" height="15.5" fill="rgb(84,84,84)" />
<rect x="251" y="370.4" width="1.86" height="15.5" fill="rgb(221,221,221)" />
<rect x="252.8" y="370.4" width="1.06" height="15.5" fill="rgb(135,135,135)" />
<rect x="253.8" y="370.4" width="4.96" height="15.5" fill="rgb(255,255,255)" />
<rect x="258.7" y="370.4" width="1.76" height="15.5" fill="rgb(119,119,119)" />
<rect x="260.4" y="370.4" width="2.16" height="15.5" fill="rgb(221,221,221)" />
<rect x="262.5" y="370.4" width="1.46" height="15.5" fill="rgb(84,84,84)" />
<rect x="263.9" y="370.4" width="1.06" height="15.5" fill="rgb(221,221,221)" />
<rect x="264.9" y="370.4" width="2.16" height="15.5" fill="rgb(135,135,135)" />
<rect x="267" y="370.4" width="1.46" height="15.5" fill="rgb(204,204,204)" />
<rect x="268.4" y="370.4" width="1.76" height="15.5" fill="rgb(170,170,170)" />
<rect x="270.1" y="370.4" width="3.46" height="15.5" fill="rgb(255,255,255)" />
<rect x="273.5" y="370.4" width="2.16" height="15.5" fill="rgb(135,135,135)" />
<rect x="275.6" y="370.4" width="1.46" height="15.5" fill="rgb(221,221,221)" />
<rect x="277" y="370.4" width="1.86" height="15.5" fill="rgb(135,135,135)" />
<rect x="278.8" y="370.4" width="1.46" height="15.5" fill="rgb(221,221,221)" />
<rect x="280.2" y="370.4" width="1.36" height="15.5" fill="rgb(153,153,153)" />
<rect x="281.5" y="370.4" width="1.86" height="15.5" fill="rgb(255,255,255)" />
<rect x="283.3" y="370.4" width="2.46" height="15.5" fill="rgb(153,153,153)" />
<rect x="285.7" y="370.4" width="7.36" height="15.5" fill="rgb(255,255,255)" />
<rect x="293" y="370.4" width="1.06" height="15.5" fill="rgb(135,135,135)" />
<rect x="294" y="370.4" width="1.06" height="15.5" fill="rgb(255,255,255)" />
<rect x="295" y="370.4" width="2.16" height="15.5" fill="rgb(186,186,186)" />
<rect x="297.1" y="370.4" width="2.86" height="15.5" fill="rgb(242,242,242)" />
<rect x="299.9" y="370.4" width="1.76" height="15.5" fill="rgb(119,119,119)" />
<rect x="301.6" y="370.4" width="2.16" height="15.5" fill="rgb(221,221,221)" />
<rect x="303.7" y="370.4" width="1.46" height="15.5" fill="rgb(119,119,119)" />
<rect x="305.1" y="370.4" width="1.46" height="15.5" fill="rgb(229,229,229)" />
<rect x="306.5" y="370.4" width="1.46" height="15.5" fill="rgb(119,119,119)" />
<rect x="307.9" y="370.4" width="3.86" height="15.5" fill="rgb(255,255,255)" />
<rect x="311.7" y="370.4" width="1.46" height="15.5" fill="rgb(153,153,153)" />
<rect x="313.1" y="370.4" width="0.76" height="15.5" fill="rgb(221,221,221)" />
<rect x="313.8" y="370.4" width="1.06" height="15.5" fill="rgb(153,153,153)" />
<rect x="314.8" y="370.4" width="2.16" height="15.5" fill="rgb(255,255,255)" />
<rect x="316.9" y="370.4" width="1.06" height="15.5" fill="rgb(135,135,135)" />
<rect x="317.9" y="370.4" width="3.16" height="15.5" fill="rgb(255,255,255)" />
<rect x="321" y="370.4" width="1.46" height="15.5" fill="rgb(153,153,153)" />
<rect x="322.4" y="370.4" width="4.56" height="15.5" fill="rgb(255,255,255)" />
<rect x="326.9" y="370.4" width="1.16" height="15.5" fill="rgb(135,135,135)" />
<rect x="328" y="370.4" width="1.76" height="15.5" fill="rgb(221,221,221)" />
<rect x="329.7" y="370.4" width="1.56" height="15.5" fill="rgb(153,153,153)" />
<rect x="331.2" y="370.4" width="2.06" height="15.5" fill="rgb(119,119,119)" />
<rect x="333.2" y="370.4" width="1.06" height="15.5" fill="rgb(221,221,221)" />
<rect x="334.2" y="370.4" width="1.06" height="15.5" fill="rgb(135,135,135)" />
<rect x="335.2" y="370.4" width="2.56" height="15.5" fill="rgb(221,221,221)" />
<rect x="337.7" y="370.4" width="2.46" height="15.5" fill="rgb(170,170,170)" />
<rect x="340.1" y="370.4" width="3.46" height="15.5" fill="rgb(255,255,255)" />
<rect x="343.5" y="370.4" width="1.86" height="15.5" fill="rgb(33,33,33)" />
<rect x="345.3" y="370.4" width="0.56" height="15.5" fill="rgb(153,153,153)" />
<rect x="241.5" y="386.1" width="104.3" height="4.2" fill="url(#cbar)" />
<polyline points="241.5,336.5 242.1,335.06 242.5,329.54 243.5,328.28 244.6,327.09 246.3,327.61 248.1,326.31 249.8,324.76 251.5,323.5 253.3,323.78 255,324.46 257.3,326.75 259.6,327.77 261.3,328.7 263.1,328.98 264.8,329.53 266.5,329.49 268.25,330.82 270,331.93 271.75,332.62 273.5,333.82 275.2,334.5 276.9,334.71 278.43,336.17 279.97,336.85 281.5,337.42 283.07,338.14 284.63,339.86 286.2,340.48 287.73,341.66 289.27,342.77 290.8,343.59 292.33,344.85 293.87,345.44 295.4,346.87 296.8,347.42 298.2,348.73 299.6,349.54 301.13,349.8 302.67,350.81 304.2,351.85 305.73,353.49 307.27,353.98 308.8,355.11 310.37,355.79 311.93,356.94 313.5,357.8 315.03,358.73 316.57,359.91 318.1,360.88 319.63,361.93 321.17,362.5 322.7,363.49 324.45,364.57 326.2,365.84 327.9,366.4 329.6,366.8 331.35,367.42 333.1,367.52 335.4,366.66 337.7,367.16 339.15,366.54 340.6,365.34 342.9,367.4 344,365.47 344.6,357.3 345.5,351 345.7,350.8" fill="none" stroke="#7db457" stroke-width="1.05" stroke-linejoin="round"/>
<rect x="241.5" y="319.9" width="110.7" height="71.1" fill="none" stroke="#1a1a1a" stroke-width="1.2"/>
<line x1="238.5" y1="322.3" x2="241.5" y2="322.3" stroke="#1a1a1a" stroke-width="0.9" />
<text x="234.9" y="324.9" font-size="7.3" fill="#141414" stroke="#141414" text-anchor="end" >0.4</text>
<line x1="238.5" y1="336.5" x2="241.5" y2="336.5" stroke="#1a1a1a" stroke-width="0.9" />
<text x="234.9" y="339.1" font-size="7.3" fill="#141414" stroke="#141414" text-anchor="end" >0.2</text>
<line x1="238.5" y1="350.7" x2="241.5" y2="350.7" stroke="#1a1a1a" stroke-width="0.9" />
<text x="234.9" y="353.3" font-size="7.3" fill="#141414" stroke="#141414" text-anchor="end" >0.0</text>
<line x1="238.5" y1="364.9" x2="241.5" y2="364.9" stroke="#1a1a1a" stroke-width="0.9" />
<text x="234.9" y="367.5" font-size="7.3" fill="#141414" stroke="#141414" text-anchor="end" >-0.2</text>
<text x="242" y="401.2" font-size="7.6" fill="#a8344c" stroke="#a8344c" textLength="45.4" lengthAdjust="spacingAndGlyphs" >NUP98-HBO1</text>
<text x="320.9" y="401.2" font-size="7.6" fill="#4b5a8e" stroke="#4b5a8e" textLength="26.1" lengthAdjust="spacingAndGlyphs" >Control</text>
<text x="242" y="413.4" font-size="7.6" fill="#141414" stroke="#141414" textLength="52.8" lengthAdjust="spacingAndGlyphs" >NES: 1.5415913</text>
<text x="242" y="423.3" font-size="7.6" fill="#141414" stroke="#141414" textLength="77.9" lengthAdjust="spacingAndGlyphs" >P-value: 0.0076726344</text>
<text x="242" y="432.9" font-size="7.6" fill="#141414" stroke="#141414" textLength="88.8" lengthAdjust="spacingAndGlyphs" >FDR q-value: 0.046231695</text>
<text x="368.6" y="301.9" font-size="12.3" fill="#141414" stroke="#141414" textLength="5.6" lengthAdjust="spacingAndGlyphs" style="stroke-width:0.3px">F</text>
<text x="423.4" y="315" font-size="7.6" fill="#141414" stroke="#141414" textLength="66.5" lengthAdjust="spacingAndGlyphs" >Granulocytic genes</text>
<text transform="translate(376,380.3) rotate(-90)" x="0" y="0" font-size="8.6" fill="#141414" stroke="#141414" textLength="71.3" lengthAdjust="spacingAndGlyphs" >Enrichment score</text>
<rect x="401.5" y="320.1" width="111.2" height="69.3" fill="#ffffff" />
<path d="M419.8 320.1V369.4 M438.2 320.1V369.4 M456.6 320.1V369.4 M475 320.1V369.4 M493.4 320.1V369.4 M401.5 323H512.7 M401.5 329.6H512.7 M401.5 336.2H512.7 M401.5 342.8H512.7 M401.5 349.4H512.7 M401.5 356H512.7 M401.5 362.6H512.7" stroke="#f0f0f0" stroke-width="0.7" fill="none"/>
<line x1="401.5" y1="323" x2="512.7" y2="323" stroke="#cacaca" stroke-width="1" />
<line x1="505.8" y1="369.4" x2="512.7" y2="369.4" stroke="#e4e4e4" stroke-width="0.5" />
<line x1="505.8" y1="385" x2="512.7" y2="385" stroke="#e4e4e4" stroke-width="0.5" />
<rect x="401.5" y="369.4" width="0.96" height="15.6" fill="rgb(127,127,127)" />
<rect x="402.4" y="369.4" width="6.26" height="15.6" fill="rgb(255,255,255)" />
<rect x="408.6" y="369.4" width="1.46" height="15.6" fill="rgb(119,119,119)" />
<rect x="410" y="369.4" width="1.46" height="15.6" fill="rgb(255,255,255)" />
<rect x="411.4" y="369.4" width="1.06" height="15.6" fill="rgb(204,204,204)" />
<rect x="412.4" y="369.4" width="1.46" height="15.6" fill="rgb(255,255,255)" />
<rect x="413.8" y="369.4" width="1.46" height="15.6" fill="rgb(119,119,119)" />
<rect x="415.2" y="369.4" width="4.56" height="15.6" fill="rgb(255,255,255)" />
<rect x="419.7" y="369.4" width="1.46" height="15.6" fill="rgb(204,204,204)" />
<rect x="421.1" y="369.4" width="1.06" height="15.6" fill="rgb(153,153,153)" />
<rect x="422.1" y="369.4" width="2.16" height="15.6" fill="rgb(102,102,102)" />
<rect x="424.2" y="369.4" width="1.06" height="15.6" fill="rgb(170,170,170)" />
<rect x="425.2" y="369.4" width="2.56" height="15.6" fill="rgb(221,221,221)" />
<rect x="427.7" y="369.4" width="1.06" height="15.6" fill="rgb(186,186,186)" />
<rect x="428.7" y="369.4" width="1.76" height="15.6" fill="rgb(204,204,204)" />
<rect x="430.4" y="369.4" width="1.46" height="15.6" fill="rgb(135,135,135)" />
<rect x="431.8" y="369.4" width="1.76" height="15.6" fill="rgb(255,255,255)" />
<rect x="433.5" y="369.4" width="1.46" height="15.6" fill="rgb(186,186,186)" />
<rect x="434.9" y="369.4" width="7.06" height="15.6" fill="rgb(255,255,255)" />
<rect x="441.9" y="369.4" width="1.76" height="15.6" fill="rgb(186,186,186)" />
<rect x="443.6" y="369.4" width="1.46" height="15.6" fill="rgb(255,255,255)" />
<rect x="445" y="369.4" width="1.46" height="15.6" fill="rgb(204,204,204)" />
<rect x="446.4" y="369.4" width="2.46" height="15.6" fill="rgb(119,119,119)" />
<rect x="448.8" y="369.4" width="1.16" height="15.6" fill="rgb(255,255,255)" />
<rect x="449.9" y="369.4" width="2.76" height="15.6" fill="rgb(165,165,165)" />
<rect x="452.6" y="369.4" width="1.46" height="15.6" fill="rgb(255,255,255)" />
<rect x="454" y="369.4" width="2.16" height="15.6" fill="rgb(135,135,135)" />
<rect x="456.1" y="369.4" width="0.76" height="15.6" fill="rgb(221,221,221)" />
<rect x="456.8" y="369.4" width="3.16" height="15.6" fill="rgb(247,247,247)" />
<rect x="459.9" y="369.4" width="3.86" height="15.6" fill="rgb(102,102,102)" />
<rect x="463.7" y="369.4" width="1.46" height="15.6" fill="rgb(204,204,204)" />
<rect x="465.1" y="369.4" width="3.46" height="15.6" fill="rgb(255,255,255)" />
<rect x="468.5" y="369.4" width="2.16" height="15.6" fill="rgb(186,186,186)" />
<rect x="470.6" y="369.4" width="7.36" height="15.6" fill="rgb(255,255,255)" />
<rect x="477.9" y="369.4" width="2.16" height="15.6" fill="rgb(153,153,153)" />
<rect x="480" y="369.4" width="3.16" height="15.6" fill="rgb(170,170,170)" />
<rect x="483.1" y="369.4" width="1.76" height="15.6" fill="rgb(255,255,255)" />
<rect x="484.8" y="369.4" width="2.86" height="15.6" fill="rgb(153,153,153)" />
<rect x="487.6" y="369.4" width="1.46" height="15.6" fill="rgb(68,68,68)" />
<rect x="489" y="369.4" width="1.76" height="15.6" fill="rgb(255,255,255)" />
<rect x="490.7" y="369.4" width="1.86" height="15.6" fill="rgb(153,153,153)" />
<rect x="492.5" y="369.4" width="1.76" height="15.6" fill="rgb(242,242,242)" />
<rect x="494.2" y="369.4" width="2.46" height="15.6" fill="rgb(170,170,170)" />
<rect x="496.6" y="369.4" width="2.16" height="15.6" fill="rgb(119,119,119)" />
<rect x="498.7" y="369.4" width="1.46" height="15.6" fill="rgb(153,153,153)" />
<rect x="500.1" y="369.4" width="1.46" height="15.6" fill="rgb(204,204,204)" />
<rect x="501.5" y="369.4" width="1.46" height="15.6" fill="rgb(153,153,153)" />
<rect x="502.9" y="369.4" width="2.76" height="15.6" fill="rgb(7,7,7)" />
<rect x="505.6" y="369.4" width="0.26" height="15.6" fill="rgb(255,255,255)" />
<rect x="401.5" y="385.2" width="104.3" height="3.8" fill="url(#cbar)" />
<polyline points="401.5,322.4 402.3,322.36 404.6,323.44 406.9,324.81 408.7,325.99 409.8,324.81 412.1,326.21 414.4,327.58 416.2,327.77 418.5,329.24 420.8,329.85 423.1,330.93 424.8,329.6 426.25,330.26 427.7,330.95 429.45,331.89 431.2,333.38 432.9,334.35 434.6,335.38 436.13,336.27 437.67,336.62 439.2,337.63 440.73,338.91 442.27,340.01 443.8,341.12 445.37,342.01 446.93,342.16 448.5,343.5 450.03,344.52 451.57,345.34 453.1,346.01 454.63,347.24 456.17,347.86 457.7,349.59 459.25,350.18 460.8,350.54 462.23,351.2 463.65,352.62 465.07,353.19 466.5,354.34 467.95,355.19 469.4,355.76 470.85,356.55 472.3,357.59 473.75,358.29 475.2,358.9 476.65,359.87 478.1,361.18 479.63,360.89 481.17,361.29 482.7,362.21 484.23,362.5 485.77,363.33 487.3,363.87 488.83,364.29 490.37,365.41 491.9,365.23 494.2,366.42 496.5,365.03 498.25,364.57 500,363.4 502.3,362.27 503.5,356.32 504.6,347.84 505.8,338.8 506.3,329.5 506.6,322.6" fill="none" stroke="#7db457" stroke-width="1.05" stroke-linejoin="round"/>
<rect x="401.5" y="320.1" width="111.2" height="69.3" fill="none" stroke="#1a1a1a" stroke-width="1.2"/>
<line x1="398.5" y1="323" x2="401.5" y2="323" stroke="#1a1a1a" stroke-width="0.9" />
<text x="394.9" y="325.6" font-size="7.3" fill="#141414" stroke="#141414" text-anchor="end" >0.0</text>
<line x1="398.5" y1="336.2" x2="401.5" y2="336.2" stroke="#1a1a1a" stroke-width="0.9" />
<text x="394.9" y="338.8" font-size="7.3" fill="#141414" stroke="#141414" text-anchor="end" >-0.2</text>
<line x1="398.5" y1="349.6" x2="401.5" y2="349.6" stroke="#1a1a1a" stroke-width="0.9" />
<text x="394.9" y="352.2" font-size="7.3" fill="#141414" stroke="#141414" text-anchor="end" >-0.4</text>
<line x1="398.5" y1="362.9" x2="401.5" y2="362.9" stroke="#1a1a1a" stroke-width="0.9" />
<text x="394.9" y="365.5" font-size="7.3" fill="#141414" stroke="#141414" text-anchor="end" >-0.6</text>
<text x="402.6" y="398.8" font-size="7.6" fill="#a8344c" stroke="#a8344c" textLength="45" lengthAdjust="spacingAndGlyphs" >NUP98-HBO1</text>
<text x="481.5" y="398.8" font-size="7.6" fill="#4b5a8e" stroke="#4b5a8e" textLength="25.5" lengthAdjust="spacingAndGlyphs" >Control</text>
<text x="402.6" y="411.5" font-size="7.6" fill="#141414" stroke="#141414" textLength="50.8" lengthAdjust="spacingAndGlyphs" >NES: -2.457254</text>
<text x="402.6" y="421.5" font-size="7.6" fill="#141414" stroke="#141414" textLength="51.9" lengthAdjust="spacingAndGlyphs" >P-value &lt; 0.001</text>
<text x="402.6" y="431.2" font-size="7.6" fill="#141414" stroke="#141414" textLength="68.1" lengthAdjust="spacingAndGlyphs" >FDR q-value &lt; 0.001</text>
<text x="7.2" y="298.8" font-size="12.1" fill="#141414" stroke="#141414" textLength="8.1" lengthAdjust="spacingAndGlyphs" style="stroke-width:0.3px">D</text>
<polygon points="48,428 50,421 53,418.5 58,415 62,411 66.4,408 70.4,404 75.5,400.5 80.6,397.5 86,393 90,386 98.4,378 108.3,370.5 116.8,363.4 126.7,353.5 140.6,342.5 153.6,329.5 162,325 168.5,323.5 169.5,326.5 161.7,336 152,347.3 142.2,358.7 132.5,370 126,380 120,391 112,401 105,409 98,415 90,421 85,427 80.6,432.5 75.5,434.5 70.4,435.5 65.4,437.5 60.3,438.6 55.2,437.6 50.1,434 48,431" fill="#d3cfd3" filter="url(#cblur)"/>
<path d="M123.32 371.78h1.5v1.5h-1.5zM126.54 352.97h1.5v1.5h-1.5zM152.54 343.6h1.5v1.5h-1.5zM74.42 414.21h1.5v1.5h-1.5zM56.65 437.88h1.5v1.5h-1.5zM80 419.39h1.5v1.5h-1.5zM139.58 349.44h1.5v1.5h-1.5zM95.7 409.24h1.5v1.5h-1.5zM157.11 333.41h1.5v1.5h-1.5zM143.86 345.07h1.5v1.5h-1.5zM169.02 379.35h1.5v1.5h-1.5zM96.02 401.32h1.5v1.5h-1.5zM135.59 340.92h1.5v1.5h-1.5zM134.96 368.62h1.5v1.5h-1.5zM72.99 410.79h1.5v1.5h-1.5zM59.94 425.12h1.5v1.5h-1.5zM124.6 373.91h1.5v1.5h-1.5zM75.28 404.66h1.5v1.5h-1.5zM115.8 362.32h1.5v1.5h-1.5zM61.93 413.66h1.5v1.5h-1.5zM177.33 346.26h1.5v1.5h-1.5zM151.42 353.68h1.5v1.5h-1.5zM77.65 415.2h1.5v1.5h-1.5zM66.59 408.05h1.5v1.5h-1.5zM152.39 347.03h1.5v1.5h-1.5zM158.01 343.98h1.5v1.5h-1.5zM83.66 413.48h1.5v1.5h-1.5zM119.6 380.44h1.5v1.5h-1.5zM89.84 390.64h1.5v1.5h-1.5zM60.54 427.89h1.5v1.5h-1.5zM59.74 423.06h1.5v1.5h-1.5zM62.14 435.4h1.5v1.5h-1.5zM154.04 321.51h1.5v1.5h-1.5zM55.15 439.63h1.5v1.5h-1.5zM128.31 367.17h1.5v1.5h-1.5zM56.03 418.94h1.5v1.5h-1.5zM95.92 385h1.5v1.5h-1.5zM109.62 388.58h1.5v1.5h-1.5zM158.27 344.68h1.5v1.5h-1.5zM112.85 368.24h1.5v1.5h-1.5zM135.73 356.24h1.5v1.5h-1.5zM55.93 442.77h1.5v1.5h-1.5zM91.26 411.87h1.5v1.5h-1.5zM139.63 333.92h1.5v1.5h-1.5zM51.85 423.9h1.5v1.5h-1.5zM143.09 362.83h1.5v1.5h-1.5zM78.22 408h1.5v1.5h-1.5zM105.67 401.33h1.5v1.5h-1.5zM74.86 418.43h1.5v1.5h-1.5zM174.8 342.46h1.5v1.5h-1.5zM61.7 422.56h1.5v1.5h-1.5zM88.12 402.15h1.5v1.5h-1.5zM50.93 422.59h1.5v1.5h-1.5zM73.61 411.19h1.5v1.5h-1.5zM80.24 415.85h1.5v1.5h-1.5zM68.78 409.54h1.5v1.5h-1.5zM109.16 394.13h1.5v1.5h-1.5zM137.75 348.05h1.5v1.5h-1.5zM95.37 390.95h1.5v1.5h-1.5zM128.28 356.39h1.5v1.5h-1.5zM96.09 396.19h1.5v1.5h-1.5zM146.14 344.13h1.5v1.5h-1.5zM93.24 389.19h1.5v1.5h-1.5zM97.82 430.86h1.5v1.5h-1.5zM109.36 377.59h1.5v1.5h-1.5zM148.67 349.61h1.5v1.5h-1.5zM106.65 388.84h1.5v1.5h-1.5zM91.09 396.3h1.5v1.5h-1.5zM90.7 420.44h1.5v1.5h-1.5zM155.88 332.15h1.5v1.5h-1.5zM108.38 375.45h1.5v1.5h-1.5zM156.91 330.6h1.5v1.5h-1.5zM98.88 368.88h1.5v1.5h-1.5zM102.44 380.92h1.5v1.5h-1.5zM62.19 415.2h1.5v1.5h-1.5zM114.54 373.08h1.5v1.5h-1.5zM74.09 410.32h1.5v1.5h-1.5zM122.64 381.3h1.5v1.5h-1.5zM108.75 405.25h1.5v1.5h-1.5zM76.79 419.68h1.5v1.5h-1.5zM79.14 414.61h1.5v1.5h-1.5zM93.77 412.51h1.5v1.5h-1.5zM58.6 429.76h1.5v1.5h-1.5zM64.63 394.41h1.5v1.5h-1.5zM98.77 406h1.5v1.5h-1.5zM168.26 372.56h1.5v1.5h-1.5zM133.5 378.65h1.5v1.5h-1.5zM148.8 356.9h1.5v1.5h-1.5zM75 432.98h1.5v1.5h-1.5zM63.19 427.07h1.5v1.5h-1.5zM125.26 355.98h1.5v1.5h-1.5zM132.49 382.12h1.5v1.5h-1.5zM145.53 347.06h1.5v1.5h-1.5zM90.1 385.69h1.5v1.5h-1.5zM122.34 371.33h1.5v1.5h-1.5zM134.95 360.29h1.5v1.5h-1.5zM58.04 428.77h1.5v1.5h-1.5zM149.66 338.06h1.5v1.5h-1.5zM72.37 427.37h1.5v1.5h-1.5zM79.27 399.74h1.5v1.5h-1.5zM161.32 350.84h1.5v1.5h-1.5zM76.62 409.76h1.5v1.5h-1.5zM117.45 416.71h1.5v1.5h-1.5zM48.98 402.64h1.5v1.5h-1.5zM163.58 373.09h1.5v1.5h-1.5zM64.77 446.37h1.5v1.5h-1.5zM120.45 331.97h1.5v1.5h-1.5zM141.73 351.28h1.5v1.5h-1.5zM154.06 349.66h1.5v1.5h-1.5zM83.97 422.94h1.5v1.5h-1.5zM139.51 352.56h1.5v1.5h-1.5zM57.3 439.15h1.5v1.5h-1.5zM151.63 325.74h1.5v1.5h-1.5zM117.17 365.18h1.5v1.5h-1.5zM157.56 337.93h1.5v1.5h-1.5zM156.77 330.07h1.5v1.5h-1.5zM63.31 426.89h1.5v1.5h-1.5zM137.38 365.6h1.5v1.5h-1.5zM97.42 401.27h1.5v1.5h-1.5zM55.43 387.48h1.5v1.5h-1.5zM111.06 381.86h1.5v1.5h-1.5zM137.04 362.21h1.5v1.5h-1.5zM124.24 367.07h1.5v1.5h-1.5zM87.45 406.69h1.5v1.5h-1.5zM89.21 409.45h1.5v1.5h-1.5zM92.39 392.55h1.5v1.5h-1.5zM149.22 329.35h1.5v1.5h-1.5zM156.83 345.47h1.5v1.5h-1.5zM44.48 431.37h1.5v1.5h-1.5zM101.97 396.18h1.5v1.5h-1.5zM104.76 396.32h1.5v1.5h-1.5zM102.09 386.97h1.5v1.5h-1.5zM62.54 431.21h1.5v1.5h-1.5zM118.75 368.69h1.5v1.5h-1.5zM133.79 374.66h1.5v1.5h-1.5zM72.58 416.58h1.5v1.5h-1.5zM141.3 342h1.5v1.5h-1.5zM91.74 389.3h1.5v1.5h-1.5zM99.41 379.72h1.5v1.5h-1.5zM124.63 369.31h1.5v1.5h-1.5zM70.38 434.34h1.5v1.5h-1.5zM73.42 422.43h1.5v1.5h-1.5zM78.82 412.02h1.5v1.5h-1.5zM117.25 405.71h1.5v1.5h-1.5zM144.56 402.97h1.5v1.5h-1.5zM153.79 345.01h1.5v1.5h-1.5zM150.04 355.08h1.5v1.5h-1.5zM160.02 349.92h1.5v1.5h-1.5zM76.94 410.57h1.5v1.5h-1.5zM139.82 359.57h1.5v1.5h-1.5zM61.65 431.9h1.5v1.5h-1.5zM83.51 411.85h1.5v1.5h-1.5zM77.81 414.89h1.5v1.5h-1.5zM135.37 368.61h1.5v1.5h-1.5zM94.11 391.38h1.5v1.5h-1.5zM111.68 407.98h1.5v1.5h-1.5zM155.55 354.64h1.5v1.5h-1.5zM98.1 402.99h1.5v1.5h-1.5zM133.18 333.06h1.5v1.5h-1.5zM111.25 407.79h1.5v1.5h-1.5zM77.03 416.41h1.5v1.5h-1.5zM103.34 396.27h1.5v1.5h-1.5zM89.93 389.67h1.5v1.5h-1.5zM104.04 390.16h1.5v1.5h-1.5zM95.67 397.63h1.5v1.5h-1.5zM45.61 426.74h1.5v1.5h-1.5zM51.85 427.98h1.5v1.5h-1.5zM73.85 415.15h1.5v1.5h-1.5zM145.68 368.56h1.5v1.5h-1.5zM72.91 405.46h1.5v1.5h-1.5zM163.04 329.63h1.5v1.5h-1.5zM134.06 380.07h1.5v1.5h-1.5zM164.53 342.54h1.5v1.5h-1.5zM47.47 430.05h1.5v1.5h-1.5zM109.17 374.47h1.5v1.5h-1.5zM122.61 357.45h1.5v1.5h-1.5zM129.47 353.3h1.5v1.5h-1.5zM141.39 349h1.5v1.5h-1.5zM84.09 403.75h1.5v1.5h-1.5zM159.42 335.5h1.5v1.5h-1.5zM132.63 369.46h1.5v1.5h-1.5zM53.42 418.42h1.5v1.5h-1.5zM75.23 436.06h1.5v1.5h-1.5zM143.18 359.11h1.5v1.5h-1.5zM105.63 383.44h1.5v1.5h-1.5zM125.87 326.64h1.5v1.5h-1.5zM106.1 355.47h1.5v1.5h-1.5zM131.76 364.8h1.5v1.5h-1.5zM107.58 436.24h1.5v1.5h-1.5zM118.36 389.2h1.5v1.5h-1.5zM74 403.07h1.5v1.5h-1.5zM141.91 346.93h1.5v1.5h-1.5zM108.18 394.88h1.5v1.5h-1.5zM91.41 396.61h1.5v1.5h-1.5zM79.52 420.71h1.5v1.5h-1.5zM91.32 404.85h1.5v1.5h-1.5zM59.22 443.99h1.5v1.5h-1.5zM77.28 445.75h1.5v1.5h-1.5zM127.35 364.19h1.5v1.5h-1.5zM99.78 380.86h1.5v1.5h-1.5zM126.88 363.46h1.5v1.5h-1.5zM121.12 382.61h1.5v1.5h-1.5zM135.86 360.13h1.5v1.5h-1.5zM130.02 364.08h1.5v1.5h-1.5zM69.6 415.02h1.5v1.5h-1.5zM108.15 379.51h1.5v1.5h-1.5zM98.5 381.01h1.5v1.5h-1.5zM161.56 333.44h1.5v1.5h-1.5zM70.04 415.13h1.5v1.5h-1.5zM74.23 422.48h1.5v1.5h-1.5zM161.65 334.07h1.5v1.5h-1.5zM125.64 360.94h1.5v1.5h-1.5zM153.36 348.84h1.5v1.5h-1.5zM102.85 388.54h1.5v1.5h-1.5zM155.65 335.61h1.5v1.5h-1.5zM137.57 344.55h1.5v1.5h-1.5zM53.21 428.61h1.5v1.5h-1.5zM111.7 377.24h1.5v1.5h-1.5zM137.19 357.26h1.5v1.5h-1.5zM145.13 359.22h1.5v1.5h-1.5zM102.04 393.48h1.5v1.5h-1.5zM167.36 336.19h1.5v1.5h-1.5zM144.03 369.62h1.5v1.5h-1.5zM75.22 417.35h1.5v1.5h-1.5zM72.22 421.69h1.5v1.5h-1.5zM53.7 440.09h1.5v1.5h-1.5zM81.21 418.23h1.5v1.5h-1.5zM134.15 368.17h1.5v1.5h-1.5zM161.39 376.12h1.5v1.5h-1.5zM136.85 380.36h1.5v1.5h-1.5zM117.83 364.43h1.5v1.5h-1.5zM142.01 347.96h1.5v1.5h-1.5zM131.72 355.31h1.5v1.5h-1.5zM85.69 410.39h1.5v1.5h-1.5zM164.08 343.67h1.5v1.5h-1.5zM101.34 381.78h1.5v1.5h-1.5zM85.5 402.93h1.5v1.5h-1.5zM53.52 420.8h1.5v1.5h-1.5zM169.81 347.54h1.5v1.5h-1.5zM118.79 359.8h1.5v1.5h-1.5zM99.23 384.69h1.5v1.5h-1.5zM160.03 345.65h1.5v1.5h-1.5zM109.45 390.32h1.5v1.5h-1.5zM94.18 406.07h1.5v1.5h-1.5zM105.56 421.34h1.5v1.5h-1.5zM77.78 402.57h1.5v1.5h-1.5zM107.34 396.17h1.5v1.5h-1.5zM97.13 414.34h1.5v1.5h-1.5zM155.35 324.64h1.5v1.5h-1.5zM110.06 379.96h1.5v1.5h-1.5zM127 348.91h1.5v1.5h-1.5zM146.87 367.93h1.5v1.5h-1.5zM107.14 399.57h1.5v1.5h-1.5zM69.86 430.63h1.5v1.5h-1.5zM70.34 423.14h1.5v1.5h-1.5zM102.39 370.22h1.5v1.5h-1.5zM103.07 390.48h1.5v1.5h-1.5zM145.87 350.56h1.5v1.5h-1.5zM93.29 421.25h1.5v1.5h-1.5zM165.96 337.01h1.5v1.5h-1.5zM156.37 340.68h1.5v1.5h-1.5zM153.06 347.03h1.5v1.5h-1.5zM79.2 376.67h1.5v1.5h-1.5zM109.61 387.03h1.5v1.5h-1.5zM108.27 368.62h1.5v1.5h-1.5zM110.01 391.33h1.5v1.5h-1.5zM113.89 381.78h1.5v1.5h-1.5zM99.1 387.83h1.5v1.5h-1.5zM108.29 371.9h1.5v1.5h-1.5zM138.5 356.05h1.5v1.5h-1.5zM149.76 359.15h1.5v1.5h-1.5zM113.51 356.48h1.5v1.5h-1.5zM55 433.98h1.5v1.5h-1.5zM109.33 368.98h1.5v1.5h-1.5zM113.53 387.02h1.5v1.5h-1.5zM133.77 363.38h1.5v1.5h-1.5zM108.44 394.1h1.5v1.5h-1.5zM100.52 414.43h1.5v1.5h-1.5zM163.37 363.45h1.5v1.5h-1.5zM94.87 399.85h1.5v1.5h-1.5zM157.13 352.68h1.5v1.5h-1.5zM142.81 366.88h1.5v1.5h-1.5zM53.49 419.23h1.5v1.5h-1.5zM137.05 373.11h1.5v1.5h-1.5zM58.05 435.09h1.5v1.5h-1.5zM62.23 417.8h1.5v1.5h-1.5zM112.41 377.28h1.5v1.5h-1.5zM145.4 341.31h1.5v1.5h-1.5zM70.31 405.33h1.5v1.5h-1.5zM74.85 407.02h1.5v1.5h-1.5zM72.23 425.11h1.5v1.5h-1.5zM92.6 405.01h1.5v1.5h-1.5zM86.89 419.89h1.5v1.5h-1.5zM76.24 420.22h1.5v1.5h-1.5zM114.75 378.32h1.5v1.5h-1.5zM156.04 324.28h1.5v1.5h-1.5zM82.28 410.02h1.5v1.5h-1.5zM114.56 352.52h1.5v1.5h-1.5zM102.28 382.08h1.5v1.5h-1.5zM90.2 415.41h1.5v1.5h-1.5zM128.49 377.58h1.5v1.5h-1.5zM137.84 377.58h1.5v1.5h-1.5zM138.18 389.15h1.5v1.5h-1.5zM129.4 376.29h1.5v1.5h-1.5zM131.08 358.44h1.5v1.5h-1.5zM81.17 404.47h1.5v1.5h-1.5zM106.49 377.09h1.5v1.5h-1.5zM106.58 379.02h1.5v1.5h-1.5zM147.05 353.43h1.5v1.5h-1.5zM144.49 355.01h1.5v1.5h-1.5zM157.55 332.56h1.5v1.5h-1.5zM164.64 338.81h1.5v1.5h-1.5zM78.88 386.95h1.5v1.5h-1.5zM100.68 389.53h1.5v1.5h-1.5zM121.57 362.56h1.5v1.5h-1.5zM72.57 436.15h1.5v1.5h-1.5zM79.25 418.45h1.5v1.5h-1.5zM147.17 353.74h1.5v1.5h-1.5zM55.95 412.78h1.5v1.5h-1.5zM76.57 397.89h1.5v1.5h-1.5zM59.84 417.55h1.5v1.5h-1.5zM116.13 357.55h1.5v1.5h-1.5zM136.13 361.23h1.5v1.5h-1.5zM102.13 399.57h1.5v1.5h-1.5zM157.93 335.52h1.5v1.5h-1.5zM83.33 390.37h1.5v1.5h-1.5zM67.65 433.17h1.5v1.5h-1.5zM118.59 388.08h1.5v1.5h-1.5zM67.98 414h1.5v1.5h-1.5zM150.04 351.12h1.5v1.5h-1.5zM123.8 381.85h1.5v1.5h-1.5zM135.23 350.23h1.5v1.5h-1.5zM48.41 420.59h1.5v1.5h-1.5zM70.76 413.04h1.5v1.5h-1.5zM73.65 428.77h1.5v1.5h-1.5zM47.08 433.44h1.5v1.5h-1.5zM76.63 409.52h1.5v1.5h-1.5zM116.89 360.45h1.5v1.5h-1.5zM76.38 412.01h1.5v1.5h-1.5zM70.22 419.6h1.5v1.5h-1.5zM140.66 364.99h1.5v1.5h-1.5zM134.18 351.18h1.5v1.5h-1.5zM154 332.98h1.5v1.5h-1.5zM150.51 366.29h1.5v1.5h-1.5zM160.38 335.13h1.5v1.5h-1.5zM106.71 390.33h1.5v1.5h-1.5zM158.58 345.66h1.5v1.5h-1.5zM51.68 421.23h1.5v1.5h-1.5zM120.54 370.44h1.5v1.5h-1.5zM98.27 415.06h1.5v1.5h-1.5zM119.92 376.1h1.5v1.5h-1.5zM140.23 374.51h1.5v1.5h-1.5zM138.65 368.61h1.5v1.5h-1.5zM104.21 393.75h1.5v1.5h-1.5zM92.97 390.19h1.5v1.5h-1.5zM102.82 397.71h1.5v1.5h-1.5zM153.07 337.14h1.5v1.5h-1.5zM138.25 343.04h1.5v1.5h-1.5zM137.93 347.26h1.5v1.5h-1.5zM117.93 378.37h1.5v1.5h-1.5zM85.66 396.34h1.5v1.5h-1.5zM140.32 363.59h1.5v1.5h-1.5zM130.64 387.95h1.5v1.5h-1.5zM117.67 379.95h1.5v1.5h-1.5zM68.58 432.19h1.5v1.5h-1.5zM108.71 416.34h1.5v1.5h-1.5zM154.62 356.34h1.5v1.5h-1.5zM144.62 352.43h1.5v1.5h-1.5zM157.58 340.25h1.5v1.5h-1.5zM81.71 410.97h1.5v1.5h-1.5zM92.65 406.29h1.5v1.5h-1.5zM151.11 347.24h1.5v1.5h-1.5zM120.54 370.43h1.5v1.5h-1.5zM138.71 362.94h1.5v1.5h-1.5zM87.6 394.74h1.5v1.5h-1.5zM137.06 354.32h1.5v1.5h-1.5zM66.27 419.28h1.5v1.5h-1.5zM129.59 370.21h1.5v1.5h-1.5zM105.02 396.61h1.5v1.5h-1.5zM139.43 361.65h1.5v1.5h-1.5zM125.57 365.17h1.5v1.5h-1.5zM131.02 373.18h1.5v1.5h-1.5zM47.06 432.38h1.5v1.5h-1.5zM74.27 415.67h1.5v1.5h-1.5zM71.69 420.75h1.5v1.5h-1.5zM156.53 360.93h1.5v1.5h-1.5zM56.36 427.79h1.5v1.5h-1.5zM154.28 338.76h1.5v1.5h-1.5zM116.8 379.54h1.5v1.5h-1.5zM67.99 430.11h1.5v1.5h-1.5zM101.47 418.34h1.5v1.5h-1.5zM160.72 345.5h1.5v1.5h-1.5zM151 352.89h1.5v1.5h-1.5zM98.17 399.74h1.5v1.5h-1.5zM85.91 399.63h1.5v1.5h-1.5zM58.13 420.51h1.5v1.5h-1.5zM154.32 342.26h1.5v1.5h-1.5zM151.44 360.01h1.5v1.5h-1.5zM73.19 428.55h1.5v1.5h-1.5zM129.43 374.24h1.5v1.5h-1.5zM137.73 355.89h1.5v1.5h-1.5zM118.65 408.73h1.5v1.5h-1.5zM128.97 394.12h1.5v1.5h-1.5zM128.1 379.32h1.5v1.5h-1.5zM59.12 431.36h1.5v1.5h-1.5zM52.9 427.76h1.5v1.5h-1.5zM76.99 397h1.5v1.5h-1.5zM51.99 422.42h1.5v1.5h-1.5zM158.87 358.29h1.5v1.5h-1.5zM113.63 381h1.5v1.5h-1.5zM149.4 339.62h1.5v1.5h-1.5zM93.08 410.67h1.5v1.5h-1.5zM59.16 413.6h1.5v1.5h-1.5zM75.7 388.59h1.5v1.5h-1.5zM107.39 385.5h1.5v1.5h-1.5zM94.96 387.13h1.5v1.5h-1.5zM69.16 421.88h1.5v1.5h-1.5zM83.8 397.78h1.5v1.5h-1.5zM135.58 350.03h1.5v1.5h-1.5zM126.36 365.98h1.5v1.5h-1.5zM114.84 344.18h1.5v1.5h-1.5zM93.37 408.4h1.5v1.5h-1.5zM58.98 415.45h1.5v1.5h-1.5zM96.15 398.55h1.5v1.5h-1.5zM162.74 343.38h1.5v1.5h-1.5zM129.68 338.71h1.5v1.5h-1.5zM149.33 354.74h1.5v1.5h-1.5zM128.88 375.83h1.5v1.5h-1.5zM89.84 398.74h1.5v1.5h-1.5zM154.83 333.29h1.5v1.5h-1.5zM67.75 405.86h1.5v1.5h-1.5zM52.29 417.45h1.5v1.5h-1.5zM135.89 339.93h1.5v1.5h-1.5zM136.2 355.84h1.5v1.5h-1.5zM88.94 394.64h1.5v1.5h-1.5zM149.18 359.11h1.5v1.5h-1.5zM101.42 393.96h1.5v1.5h-1.5zM103.73 394.86h1.5v1.5h-1.5zM139.19 362.86h1.5v1.5h-1.5zM142.88 352.92h1.5v1.5h-1.5zM132.06 336.1h1.5v1.5h-1.5zM107.06 394.41h1.5v1.5h-1.5zM84.96 389.55h1.5v1.5h-1.5zM143.02 354.73h1.5v1.5h-1.5zM69.26 402.3h1.5v1.5h-1.5zM71.16 435.98h1.5v1.5h-1.5zM146.54 346.91h1.5v1.5h-1.5zM156.79 344.86h1.5v1.5h-1.5zM97.85 390.44h1.5v1.5h-1.5zM84.72 396.27h1.5v1.5h-1.5zM54.8 430.29h1.5v1.5h-1.5zM77.45 383.55h1.5v1.5h-1.5zM166.7 348.97h1.5v1.5h-1.5zM72.56 429.83h1.5v1.5h-1.5zM133.99 339.24h1.5v1.5h-1.5zM95.41 385.6h1.5v1.5h-1.5zM56.07 425.95h1.5v1.5h-1.5zM137.93 366.44h1.5v1.5h-1.5zM63.23 426.21h1.5v1.5h-1.5zM94.75 391.15h1.5v1.5h-1.5zM96.77 385.12h1.5v1.5h-1.5zM55.58 439h1.5v1.5h-1.5zM83.54 418.3h1.5v1.5h-1.5zM74.64 409.71h1.5v1.5h-1.5zM123.87 366.67h1.5v1.5h-1.5zM110.19 383.65h1.5v1.5h-1.5zM166.58 335.79h1.5v1.5h-1.5zM114.94 364.26h1.5v1.5h-1.5zM77.9 410.14h1.5v1.5h-1.5zM142.67 369.88h1.5v1.5h-1.5zM139.35 357.81h1.5v1.5h-1.5zM109.46 378.63h1.5v1.5h-1.5zM85.62 434.78h1.5v1.5h-1.5zM118.39 368.6h1.5v1.5h-1.5zM65.63 438.97h1.5v1.5h-1.5zM54.06 431.58h1.5v1.5h-1.5zM113.21 383.02h1.5v1.5h-1.5zM140.89 363.48h1.5v1.5h-1.5zM142.03 339.1h1.5v1.5h-1.5zM58.24 418.37h1.5v1.5h-1.5zM156.81 347.3h1.5v1.5h-1.5zM171.58 344.1h1.5v1.5h-1.5zM108.77 383.7h1.5v1.5h-1.5zM139.82 368.36h1.5v1.5h-1.5zM117.41 386.68h1.5v1.5h-1.5zM64.12 433.8h1.5v1.5h-1.5zM85.34 380.39h1.5v1.5h-1.5zM87.04 398.16h1.5v1.5h-1.5zM166.79 333.77h1.5v1.5h-1.5zM148.33 319.47h1.5v1.5h-1.5zM84.7 393.29h1.5v1.5h-1.5zM118.48 357.88h1.5v1.5h-1.5zM133.83 350.08h1.5v1.5h-1.5zM64.56 437.02h1.5v1.5h-1.5zM107 371.59h1.5v1.5h-1.5zM139.5 378.94h1.5v1.5h-1.5zM109.53 372.68h1.5v1.5h-1.5zM95.34 396.43h1.5v1.5h-1.5zM131.39 358h1.5v1.5h-1.5zM94.37 397.85h1.5v1.5h-1.5zM92.81 383.5h1.5v1.5h-1.5zM87.87 413.22h1.5v1.5h-1.5zM146.91 346.9h1.5v1.5h-1.5zM146.12 335.72h1.5v1.5h-1.5zM142.44 344.1h1.5v1.5h-1.5zM99.27 411.26h1.5v1.5h-1.5zM152.6 352.92h1.5v1.5h-1.5zM152.15 335.24h1.5v1.5h-1.5zM69.37 430.14h1.5v1.5h-1.5zM52.9 409.93h1.5v1.5h-1.5zM89.88 397.26h1.5v1.5h-1.5zM105.17 373.13h1.5v1.5h-1.5zM159.12 325.79h1.5v1.5h-1.5zM108.06 381.61h1.5v1.5h-1.5zM164.26 337.1h1.5v1.5h-1.5zM113.16 403.02h1.5v1.5h-1.5zM121.16 337.67h1.5v1.5h-1.5zM91.58 439.26h1.5v1.5h-1.5zM52.12 427.15h1.5v1.5h-1.5zM70.8 424.75h1.5v1.5h-1.5zM74.81 387.15h1.5v1.5h-1.5zM151.88 342.32h1.5v1.5h-1.5zM105.97 374.1h1.5v1.5h-1.5zM87.42 409.05h1.5v1.5h-1.5zM157.18 337.01h1.5v1.5h-1.5zM140.73 384.78h1.5v1.5h-1.5zM126.41 391.75h1.5v1.5h-1.5zM57.27 438.12h1.5v1.5h-1.5zM134.68 380.46h1.5v1.5h-1.5zM112.03 409.09h1.5v1.5h-1.5zM82.86 407.33h1.5v1.5h-1.5zM108.47 391.23h1.5v1.5h-1.5zM62.08 433.3h1.5v1.5h-1.5zM98.23 390.35h1.5v1.5h-1.5zM72.06 391.61h1.5v1.5h-1.5zM128.13 355.08h1.5v1.5h-1.5zM92.62 399.64h1.5v1.5h-1.5zM86.78 404.9h1.5v1.5h-1.5zM57.56 423.64h1.5v1.5h-1.5zM93.55 397.64h1.5v1.5h-1.5zM58.75 411.28h1.5v1.5h-1.5zM115.31 377.64h1.5v1.5h-1.5zM114.18 390.08h1.5v1.5h-1.5zM79.87 400.28h1.5v1.5h-1.5zM161.88 336.02h1.5v1.5h-1.5zM100.05 410.87h1.5v1.5h-1.5zM124.16 369.25h1.5v1.5h-1.5zM130.58 401.72h1.5v1.5h-1.5zM123.77 352.25h1.5v1.5h-1.5zM94.53 402.55h1.5v1.5h-1.5zM114.33 381.93h1.5v1.5h-1.5zM113.21 391.38h1.5v1.5h-1.5zM113.4 352.59h1.5v1.5h-1.5zM159.73 331.96h1.5v1.5h-1.5zM165.89 346.32h1.5v1.5h-1.5zM74.19 418.21h1.5v1.5h-1.5zM65.69 423.1h1.5v1.5h-1.5zM108.45 393.2h1.5v1.5h-1.5zM95.12 411.32h1.5v1.5h-1.5zM69.17 421.08h1.5v1.5h-1.5zM97.07 411.45h1.5v1.5h-1.5zM116.49 388.59h1.5v1.5h-1.5zM73.83 381.36h1.5v1.5h-1.5zM159.27 330.41h1.5v1.5h-1.5zM135.63 373.04h1.5v1.5h-1.5zM100.37 384.95h1.5v1.5h-1.5zM133.33 395.64h1.5v1.5h-1.5zM120.99 382.05h1.5v1.5h-1.5zM150.51 353.14h1.5v1.5h-1.5zM125.31 364.4h1.5v1.5h-1.5zM53.01 435.89h1.5v1.5h-1.5zM82.48 436.75h1.5v1.5h-1.5zM145.17 329.81h1.5v1.5h-1.5zM131.65 358.22h1.5v1.5h-1.5zM81.67 398.51h1.5v1.5h-1.5zM104.97 378.57h1.5v1.5h-1.5zM79.74 392.86h1.5v1.5h-1.5zM147.76 366.1h1.5v1.5h-1.5zM125.18 380.3h1.5v1.5h-1.5zM76.13 409.91h1.5v1.5h-1.5zM71.33 394.11h1.5v1.5h-1.5zM77.6 419.85h1.5v1.5h-1.5zM147.47 329.11h1.5v1.5h-1.5zM83.26 411.23h1.5v1.5h-1.5zM170.59 341.65h1.5v1.5h-1.5zM160.76 337.63h1.5v1.5h-1.5zM127.49 358.99h1.5v1.5h-1.5zM103.56 395.08h1.5v1.5h-1.5zM110.41 381.18h1.5v1.5h-1.5zM133.96 369.53h1.5v1.5h-1.5zM86.84 421.48h1.5v1.5h-1.5zM100.34 372.75h1.5v1.5h-1.5zM130.06 360.82h1.5v1.5h-1.5zM148.11 366.72h1.5v1.5h-1.5zM103.79 402.95h1.5v1.5h-1.5zM146.12 340.32h1.5v1.5h-1.5zM61.23 378.94h1.5v1.5h-1.5zM158.56 346.03h1.5v1.5h-1.5zM138.06 367.51h1.5v1.5h-1.5zM151.72 338.01h1.5v1.5h-1.5zM158.98 343.8h1.5v1.5h-1.5zM84.03 385.36h1.5v1.5h-1.5zM165.65 349.01h1.5v1.5h-1.5zM63.98 389.58h1.5v1.5h-1.5zM103.27 373.03h1.5v1.5h-1.5zM106.8 392.79h1.5v1.5h-1.5zM66.47 429.13h1.5v1.5h-1.5zM69.24 416.04h1.5v1.5h-1.5zM139.85 353.94h1.5v1.5h-1.5zM153.85 353.09h1.5v1.5h-1.5zM138.06 343.93h1.5v1.5h-1.5zM67.45 414.56h1.5v1.5h-1.5zM87.13 404.28h1.5v1.5h-1.5zM128.2 350.71h1.5v1.5h-1.5zM69.37 391.22h1.5v1.5h-1.5zM128.35 364.7h1.5v1.5h-1.5zM68.21 429.66h1.5v1.5h-1.5zM144.98 335.39h1.5v1.5h-1.5zM82.03 401.91h1.5v1.5h-1.5zM121.97 376.06h1.5v1.5h-1.5zM65.39 423.54h1.5v1.5h-1.5zM103.86 401.1h1.5v1.5h-1.5zM105.34 390.72h1.5v1.5h-1.5zM84.49 418.06h1.5v1.5h-1.5zM156.35 351.73h1.5v1.5h-1.5zM56.56 426.68h1.5v1.5h-1.5zM63.33 436.97h1.5v1.5h-1.5zM67.36 422h1.5v1.5h-1.5zM107.52 382.22h1.5v1.5h-1.5zM54.41 421.77h1.5v1.5h-1.5zM147.26 357.27h1.5v1.5h-1.5zM57.12 431.63h1.5v1.5h-1.5zM156.98 367.38h1.5v1.5h-1.5zM129.55 353.87h1.5v1.5h-1.5zM150.39 331.83h1.5v1.5h-1.5zM163.08 344.68h1.5v1.5h-1.5zM127.53 347.31h1.5v1.5h-1.5zM118.86 365.86h1.5v1.5h-1.5zM149.41 345.59h1.5v1.5h-1.5zM99.61 405.52h1.5v1.5h-1.5zM129.42 374.67h1.5v1.5h-1.5zM77.95 426.4h1.5v1.5h-1.5zM76.81 415.73h1.5v1.5h-1.5zM55.46 437.52h1.5v1.5h-1.5zM122.1 394.28h1.5v1.5h-1.5zM80.04 413.61h1.5v1.5h-1.5zM121.47 350.51h1.5v1.5h-1.5zM141.12 350.97h1.5v1.5h-1.5zM61.71 445.29h1.5v1.5h-1.5zM67.64 432.83h1.5v1.5h-1.5zM64.97 441.42h1.5v1.5h-1.5zM93.9 394.08h1.5v1.5h-1.5zM47.24 422.05h1.5v1.5h-1.5zM84.05 408.6h1.5v1.5h-1.5zM127.1 384.97h1.5v1.5h-1.5zM82.22 400.01h1.5v1.5h-1.5zM69.77 409.06h1.5v1.5h-1.5zM128.44 379.94h1.5v1.5h-1.5zM92 372.06h1.5v1.5h-1.5zM141.97 357.18h1.5v1.5h-1.5zM103.12 400.25h1.5v1.5h-1.5zM91.76 376.58h1.5v1.5h-1.5zM76.4 398.49h1.5v1.5h-1.5zM135.65 401.24h1.5v1.5h-1.5zM113.31 380.04h1.5v1.5h-1.5zM116.63 363.45h1.5v1.5h-1.5zM146.88 348.17h1.5v1.5h-1.5zM87.29 416.32h1.5v1.5h-1.5zM111.99 368.75h1.5v1.5h-1.5zM124.98 354.18h1.5v1.5h-1.5zM117.56 401.07h1.5v1.5h-1.5zM154.03 329.22h1.5v1.5h-1.5zM77.72 412.35h1.5v1.5h-1.5zM90.34 433.15h1.5v1.5h-1.5zM96.02 400.86h1.5v1.5h-1.5zM96.5 405.95h1.5v1.5h-1.5zM62.3 428h1.5v1.5h-1.5zM94.91 380.59h1.5v1.5h-1.5zM99.51 397.16h1.5v1.5h-1.5zM76.02 415.24h1.5v1.5h-1.5zM104.86 366.89h1.5v1.5h-1.5zM73.99 428.07h1.5v1.5h-1.5zM93.41 372.67h1.5v1.5h-1.5zM122.56 360.72h1.5v1.5h-1.5zM134.2 382.13h1.5v1.5h-1.5zM61.2 411.88h1.5v1.5h-1.5zM91.15 372.78h1.5v1.5h-1.5zM109.19 379.2h1.5v1.5h-1.5zM145.36 346.75h1.5v1.5h-1.5zM143.06 384.95h1.5v1.5h-1.5zM65.99 403.04h1.5v1.5h-1.5zM55.77 440.76h1.5v1.5h-1.5zM115.61 357.88h1.5v1.5h-1.5zM99.02 381.74h1.5v1.5h-1.5zM51.22 435.63h1.5v1.5h-1.5zM62.46 390.18h1.5v1.5h-1.5zM124.68 365.29h1.5v1.5h-1.5zM151.29 338.36h1.5v1.5h-1.5zM70.4 415.96h1.5v1.5h-1.5zM146.43 354.96h1.5v1.5h-1.5zM93.49 392.86h1.5v1.5h-1.5zM166.37 335.16h1.5v1.5h-1.5zM142.84 388.02h1.5v1.5h-1.5zM140.82 361.99h1.5v1.5h-1.5zM52.35 427.22h1.5v1.5h-1.5zM77.22 427.2h1.5v1.5h-1.5zM107.1 371.99h1.5v1.5h-1.5zM57.8 424.2h1.5v1.5h-1.5zM146.89 343.42h1.5v1.5h-1.5zM94.48 378.88h1.5v1.5h-1.5zM147.44 336.89h1.5v1.5h-1.5zM64.29 444.15h1.5v1.5h-1.5zM92.51 352.86h1.5v1.5h-1.5zM128.61 360.43h1.5v1.5h-1.5zM74.58 409.67h1.5v1.5h-1.5zM102.9 405.89h1.5v1.5h-1.5zM50.86 407.66h1.5v1.5h-1.5zM130.86 360.08h1.5v1.5h-1.5zM100.35 393.01h1.5v1.5h-1.5zM78.82 392.32h1.5v1.5h-1.5zM139.37 357.37h1.5v1.5h-1.5zM90.89 418.87h1.5v1.5h-1.5zM156.81 336.76h1.5v1.5h-1.5zM115 354.34h1.5v1.5h-1.5zM133.43 345.88h1.5v1.5h-1.5zM61.05 430.32h1.5v1.5h-1.5zM140.72 366.41h1.5v1.5h-1.5zM63.84 427.81h1.5v1.5h-1.5zM76.59 405.36h1.5v1.5h-1.5zM76 422.53h1.5v1.5h-1.5zM54.75 436.05h1.5v1.5h-1.5zM62.81 429.7h1.5v1.5h-1.5zM79.1 403.11h1.5v1.5h-1.5zM122.5 386.05h1.5v1.5h-1.5zM95.14 399.96h1.5v1.5h-1.5zM52.05 425.38h1.5v1.5h-1.5zM94.77 390.89h1.5v1.5h-1.5zM74.47 408.25h1.5v1.5h-1.5zM114.43 373.26h1.5v1.5h-1.5zM155.43 333.63h1.5v1.5h-1.5zM125.09 377.91h1.5v1.5h-1.5zM134.58 343.07h1.5v1.5h-1.5zM165.79 338.21h1.5v1.5h-1.5zM62.53 406.18h1.5v1.5h-1.5zM163.85 338.47h1.5v1.5h-1.5zM98.84 379.89h1.5v1.5h-1.5zM75.74 410.41h1.5v1.5h-1.5zM67.4 429.79h1.5v1.5h-1.5zM119.92 379.1h1.5v1.5h-1.5zM163.89 341.13h1.5v1.5h-1.5zM132.5 365.3h1.5v1.5h-1.5zM127.79 335.51h1.5v1.5h-1.5zM98.98 397.67h1.5v1.5h-1.5zM130.71 374.8h1.5v1.5h-1.5zM134.37 348.86h1.5v1.5h-1.5zM95.99 396.48h1.5v1.5h-1.5zM172.38 357h1.5v1.5h-1.5zM95.95 405.34h1.5v1.5h-1.5zM95.86 367.01h1.5v1.5h-1.5zM120.71 365.05h1.5v1.5h-1.5zM116.54 363.29h1.5v1.5h-1.5zM97.14 397.88h1.5v1.5h-1.5zM156.2 330.57h1.5v1.5h-1.5zM107.91 384.7h1.5v1.5h-1.5zM120.56 382.27h1.5v1.5h-1.5zM136.31 354.59h1.5v1.5h-1.5zM104.79 383.78h1.5v1.5h-1.5zM96.64 393.87h1.5v1.5h-1.5zM57.67 419.6h1.5v1.5h-1.5zM98.67 387.41h1.5v1.5h-1.5zM111.8 394.56h1.5v1.5h-1.5zM83.58 401.75h1.5v1.5h-1.5zM138.19 347.87h1.5v1.5h-1.5zM132.65 372.54h1.5v1.5h-1.5zM160.65 330.89h1.5v1.5h-1.5zM108.3 374.48h1.5v1.5h-1.5zM73.75 410.7h1.5v1.5h-1.5zM93 386.74h1.5v1.5h-1.5zM123.86 378.06h1.5v1.5h-1.5zM132.79 366.42h1.5v1.5h-1.5zM131.18 354.01h1.5v1.5h-1.5zM148.37 344.02h1.5v1.5h-1.5zM87.9 404.54h1.5v1.5h-1.5zM89.49 362.63h1.5v1.5h-1.5zM126.16 384.25h1.5v1.5h-1.5zM151.2 352.84h1.5v1.5h-1.5zM146.8 355.67h1.5v1.5h-1.5zM53.48 422.17h1.5v1.5h-1.5zM60.53 422.07h1.5v1.5h-1.5zM101.5 378.27h1.5v1.5h-1.5zM63.14 420.36h1.5v1.5h-1.5zM115.38 351.6h1.5v1.5h-1.5zM166.36 332.96h1.5v1.5h-1.5zM85.7 404.8h1.5v1.5h-1.5zM53.64 429.05h1.5v1.5h-1.5zM142.43 350.97h1.5v1.5h-1.5zM109.53 387.44h1.5v1.5h-1.5zM150.09 353.02h1.5v1.5h-1.5zM59.24 428.37h1.5v1.5h-1.5zM85.3 412.96h1.5v1.5h-1.5zM69.62 420.29h1.5v1.5h-1.5zM120.69 389.03h1.5v1.5h-1.5zM58.69 421.03h1.5v1.5h-1.5zM147.68 354.53h1.5v1.5h-1.5zM129.62 360.02h1.5v1.5h-1.5zM144.76 349.93h1.5v1.5h-1.5zM93.08 415.8h1.5v1.5h-1.5zM141.57 349.77h1.5v1.5h-1.5zM161.53 329.48h1.5v1.5h-1.5zM108.29 368.43h1.5v1.5h-1.5zM128.03 360.3h1.5v1.5h-1.5zM71.35 413.75h1.5v1.5h-1.5zM58.01 432.17h1.5v1.5h-1.5zM74.25 391.4h1.5v1.5h-1.5zM74.32 398.88h1.5v1.5h-1.5zM138.08 377.47h1.5v1.5h-1.5zM155.92 352.68h1.5v1.5h-1.5zM150.69 347.68h1.5v1.5h-1.5zM155.56 376.28h1.5v1.5h-1.5zM106.32 387.69h1.5v1.5h-1.5zM90.84 380.3h1.5v1.5h-1.5zM153.96 347.75h1.5v1.5h-1.5zM156.91 337.94h1.5v1.5h-1.5zM149.91 327.8h1.5v1.5h-1.5zM133.11 360.39h1.5v1.5h-1.5zM104.58 392.63h1.5v1.5h-1.5zM109.52 381.18h1.5v1.5h-1.5zM99.98 394.25h1.5v1.5h-1.5zM79.64 393.75h1.5v1.5h-1.5zM118.46 383.27h1.5v1.5h-1.5zM49.63 426.17h1.5v1.5h-1.5zM132.54 348.2h1.5v1.5h-1.5zM93.67 385.43h1.5v1.5h-1.5zM159.95 336.05h1.5v1.5h-1.5zM126.33 372.39h1.5v1.5h-1.5zM158.16 340.01h1.5v1.5h-1.5zM98.88 405.61h1.5v1.5h-1.5zM71.45 422.7h1.5v1.5h-1.5zM61.62 398.09h1.5v1.5h-1.5zM132.6 366.46h1.5v1.5h-1.5zM75.02 413.19h1.5v1.5h-1.5zM111.03 406.86h1.5v1.5h-1.5zM58.44 430.12h1.5v1.5h-1.5zM90.52 409.87h1.5v1.5h-1.5zM65.59 422.98h1.5v1.5h-1.5zM165.5 333.68h1.5v1.5h-1.5zM113.42 385.92h1.5v1.5h-1.5zM141.26 370.86h1.5v1.5h-1.5zM70.98 425.28h1.5v1.5h-1.5zM68.66 436.91h1.5v1.5h-1.5zM144.75 367.53h1.5v1.5h-1.5zM77.73 396.85h1.5v1.5h-1.5zM87.67 414.87h1.5v1.5h-1.5zM123.79 379.48h1.5v1.5h-1.5zM133.37 370.23h1.5v1.5h-1.5zM112.34 387.59h1.5v1.5h-1.5zM125.55 349.4h1.5v1.5h-1.5zM155.2 332.07h1.5v1.5h-1.5zM67.77 430.41h1.5v1.5h-1.5zM168.31 339.93h1.5v1.5h-1.5zM152.3 333.89h1.5v1.5h-1.5zM101.96 410.07h1.5v1.5h-1.5zM136.56 357.02h1.5v1.5h-1.5zM58.66 431.06h1.5v1.5h-1.5zM53.27 431.64h1.5v1.5h-1.5zM127.03 377.95h1.5v1.5h-1.5zM86.16 383.51h1.5v1.5h-1.5zM117.21 370.99h1.5v1.5h-1.5zM82.84 402.95h1.5v1.5h-1.5zM102.81 374.07h1.5v1.5h-1.5zM123.82 373.44h1.5v1.5h-1.5zM133 368h1.5v1.5h-1.5zM141.97 343.42h1.5v1.5h-1.5zM95.93 385.09h1.5v1.5h-1.5zM85.58 405.81h1.5v1.5h-1.5zM135.79 368.69h1.5v1.5h-1.5zM86.68 438.27h1.5v1.5h-1.5zM133.23 363.22h1.5v1.5h-1.5zM67.09 426.67h1.5v1.5h-1.5zM127.94 346.44h1.5v1.5h-1.5zM134.94 345.33h1.5v1.5h-1.5zM112.72 375.28h1.5v1.5h-1.5zM108 396.75h1.5v1.5h-1.5zM91.89 399.53h1.5v1.5h-1.5zM62.4 427.16h1.5v1.5h-1.5zM111.32 388.5h1.5v1.5h-1.5zM152.79 350.48h1.5v1.5h-1.5zM65.38 419.97h1.5v1.5h-1.5zM140.87 339.83h1.5v1.5h-1.5zM101.8 398.28h1.5v1.5h-1.5zM97.98 395.14h1.5v1.5h-1.5zM90.59 397.13h1.5v1.5h-1.5zM148.13 336.98h1.5v1.5h-1.5zM171.19 348.17h1.5v1.5h-1.5zM100.6 387.23h1.5v1.5h-1.5zM116.48 384.11h1.5v1.5h-1.5zM75.13 418.8h1.5v1.5h-1.5zM96.58 383.47h1.5v1.5h-1.5zM98.7 379.23h1.5v1.5h-1.5zM126.93 347.92h1.5v1.5h-1.5zM50.38 435.97h1.5v1.5h-1.5zM136.02 339.05h1.5v1.5h-1.5zM163.28 340.98h1.5v1.5h-1.5zM140.48 369h1.5v1.5h-1.5zM112 384.65h1.5v1.5h-1.5zM163.24 330.5h1.5v1.5h-1.5zM50.66 417.57h1.5v1.5h-1.5zM133.23 367.74h1.5v1.5h-1.5zM158.77 331.13h1.5v1.5h-1.5zM141.87 349.33h1.5v1.5h-1.5zM111.24 375.71h1.5v1.5h-1.5zM80.56 411.22h1.5v1.5h-1.5zM141.96 353.77h1.5v1.5h-1.5zM85.17 413.45h1.5v1.5h-1.5zM78.35 421.58h1.5v1.5h-1.5zM70.2 421.7h1.5v1.5h-1.5zM93.16 392.42h1.5v1.5h-1.5zM85.87 406.32h1.5v1.5h-1.5zM67.23 428.32h1.5v1.5h-1.5zM137.5 372.91h1.5v1.5h-1.5zM142.1 345.94h1.5v1.5h-1.5zM88.6 398.82h1.5v1.5h-1.5zM125.89 365.78h1.5v1.5h-1.5zM96.15 395.87h1.5v1.5h-1.5zM143.47 367.25h1.5v1.5h-1.5zM63.98 420.79h1.5v1.5h-1.5zM131.33 336.45h1.5v1.5h-1.5zM78.28 384.96h1.5v1.5h-1.5zM123.87 371.14h1.5v1.5h-1.5zM43.91 426.19h1.5v1.5h-1.5zM145.57 334.3h1.5v1.5h-1.5zM136.91 342.25h1.5v1.5h-1.5zM51.91 429.68h1.5v1.5h-1.5zM138.1 345.18h1.5v1.5h-1.5zM50.11 430.72h1.5v1.5h-1.5zM68.47 415.06h1.5v1.5h-1.5zM153.13 346.18h1.5v1.5h-1.5zM86.09 409.38h1.5v1.5h-1.5zM113.18 381.34h1.5v1.5h-1.5zM67.25 411.2h1.5v1.5h-1.5zM103.93 377.46h1.5v1.5h-1.5zM101.38 410.85h1.5v1.5h-1.5zM106.21 384.78h1.5v1.5h-1.5zM68.6 416.78h1.5v1.5h-1.5zM128.68 345.57h1.5v1.5h-1.5zM160.82 329.32h1.5v1.5h-1.5zM120.48 364.99h1.5v1.5h-1.5zM72.21 411.84h1.5v1.5h-1.5zM154.78 357.85h1.5v1.5h-1.5zM67.59 416.57h1.5v1.5h-1.5zM160.89 346.99h1.5v1.5h-1.5zM142.03 376.59h1.5v1.5h-1.5zM76.7 423.05h1.5v1.5h-1.5zM152.31 345.77h1.5v1.5h-1.5zM55.23 422.74h1.5v1.5h-1.5zM64.36 404.14h1.5v1.5h-1.5zM72.97 416.47h1.5v1.5h-1.5zM126.48 357.34h1.5v1.5h-1.5zM56.1 438.33h1.5v1.5h-1.5zM142.63 328.02h1.5v1.5h-1.5zM167.04 342.56h1.5v1.5h-1.5zM153.92 333.69h1.5v1.5h-1.5zM63.24 420.77h1.5v1.5h-1.5zM143.38 321.63h1.5v1.5h-1.5zM73.59 422.97h1.5v1.5h-1.5zM127.24 363.41h1.5v1.5h-1.5zM120.34 380.23h1.5v1.5h-1.5zM73.32 394.11h1.5v1.5h-1.5zM145.93 324.15h1.5v1.5h-1.5zM92.03 394.51h1.5v1.5h-1.5zM119.16 376.03h1.5v1.5h-1.5zM170.31 344.24h1.5v1.5h-1.5zM75.86 432.47h1.5v1.5h-1.5zM66.52 402.16h1.5v1.5h-1.5zM130.44 378.96h1.5v1.5h-1.5zM77.25 410.38h1.5v1.5h-1.5zM74.59 406.2h1.5v1.5h-1.5zM133.29 360.6h1.5v1.5h-1.5zM154.97 347.75h1.5v1.5h-1.5zM57.52 422.62h1.5v1.5h-1.5zM150.69 348.14h1.5v1.5h-1.5zM64.2 435.26h1.5v1.5h-1.5zM81.85 405.2h1.5v1.5h-1.5zM70.01 420.28h1.5v1.5h-1.5zM131.62 359.07h1.5v1.5h-1.5zM120.37 379.14h1.5v1.5h-1.5zM102.31 385.13h1.5v1.5h-1.5zM152.25 343.86h1.5v1.5h-1.5zM58.92 424.05h1.5v1.5h-1.5zM117.27 347h1.5v1.5h-1.5zM80.15 409.88h1.5v1.5h-1.5zM111.8 375.41h1.5v1.5h-1.5zM71.14 424.97h1.5v1.5h-1.5zM121.55 364.89h1.5v1.5h-1.5zM70.93 414.82h1.5v1.5h-1.5zM51.86 421.16h1.5v1.5h-1.5zM92.14 412.57h1.5v1.5h-1.5zM60 427.31h1.5v1.5h-1.5zM78.81 425.88h1.5v1.5h-1.5zM76.26 406.43h1.5v1.5h-1.5zM68.48 406.65h1.5v1.5h-1.5zM122.98 365.08h1.5v1.5h-1.5zM82.95 395.76h1.5v1.5h-1.5zM115.57 383.09h1.5v1.5h-1.5zM152.44 360.24h1.5v1.5h-1.5zM108.69 393.21h1.5v1.5h-1.5zM98.08 382.3h1.5v1.5h-1.5zM116.6 395.22h1.5v1.5h-1.5zM144.91 356.8h1.5v1.5h-1.5zM137.82 359.54h1.5v1.5h-1.5zM160.06 330.18h1.5v1.5h-1.5zM103.26 398.88h1.5v1.5h-1.5zM113.3 406.31h1.5v1.5h-1.5zM93.52 424.83h1.5v1.5h-1.5zM157.66 343.72h1.5v1.5h-1.5zM84.09 400.7h1.5v1.5h-1.5zM98.89 387.01h1.5v1.5h-1.5zM115.97 390.18h1.5v1.5h-1.5zM104.04 401.58h1.5v1.5h-1.5zM166.08 346.35h1.5v1.5h-1.5zM115.39 380.95h1.5v1.5h-1.5zM83.46 396.25h1.5v1.5h-1.5zM94.67 398.99h1.5v1.5h-1.5zM82.25 409.8h1.5v1.5h-1.5zM98.16 353.65h1.5v1.5h-1.5zM85.39 400.84h1.5v1.5h-1.5zM133.2 357.52h1.5v1.5h-1.5zM143.59 351.64h1.5v1.5h-1.5zM82.7 409.18h1.5v1.5h-1.5zM150.91 347.25h1.5v1.5h-1.5zM159.11 331.54h1.5v1.5h-1.5zM104.79 401.82h1.5v1.5h-1.5zM67.98 414.4h1.5v1.5h-1.5zM151.67 372.84h1.5v1.5h-1.5zM141.2 348.43h1.5v1.5h-1.5zM104.26 381.89h1.5v1.5h-1.5zM140.19 340.55h1.5v1.5h-1.5zM143.55 348.07h1.5v1.5h-1.5zM72.01 405.16h1.5v1.5h-1.5zM89.23 417.08h1.5v1.5h-1.5zM105.69 383.67h1.5v1.5h-1.5zM91.62 398.23h1.5v1.5h-1.5zM78.53 427.17h1.5v1.5h-1.5zM73.7 425.38h1.5v1.5h-1.5zM137.48 361.06h1.5v1.5h-1.5zM64.05 415.88h1.5v1.5h-1.5zM169.16 343.68h1.5v1.5h-1.5zM86.42 415.32h1.5v1.5h-1.5zM52.25 434.89h1.5v1.5h-1.5zM155.09 341.76h1.5v1.5h-1.5zM118.57 375.72h1.5v1.5h-1.5zM66.08 387.18h1.5v1.5h-1.5zM126.31 374.01h1.5v1.5h-1.5zM75.68 408.28h1.5v1.5h-1.5zM130.93 370.81h1.5v1.5h-1.5zM105.35 381.96h1.5v1.5h-1.5zM149.87 352.03h1.5v1.5h-1.5zM89.25 411.81h1.5v1.5h-1.5zM70.46 443.63h1.5v1.5h-1.5zM95.74 426.33h1.5v1.5h-1.5zM146.77 337.8h1.5v1.5h-1.5zM138.08 327.46h1.5v1.5h-1.5zM149.66 361.1h1.5v1.5h-1.5zM145.35 375.2h1.5v1.5h-1.5zM167.59 334.73h1.5v1.5h-1.5zM49.1 428.46h1.5v1.5h-1.5zM115.63 379.17h1.5v1.5h-1.5zM118.15 389.76h1.5v1.5h-1.5zM173.16 360.93h1.5v1.5h-1.5zM146.58 349.34h1.5v1.5h-1.5zM68.15 416.05h1.5v1.5h-1.5zM136.21 346.32h1.5v1.5h-1.5zM73.22 420.69h1.5v1.5h-1.5zM86.64 396.97h1.5v1.5h-1.5zM88.96 409.67h1.5v1.5h-1.5zM76.51 400.05h1.5v1.5h-1.5zM125.16 410.57h1.5v1.5h-1.5zM70.71 442.29h1.5v1.5h-1.5zM113.42 392.4h1.5v1.5h-1.5zM50.35 425.67h1.5v1.5h-1.5zM70.92 428.25h1.5v1.5h-1.5zM149.82 337.61h1.5v1.5h-1.5zM83.91 402.62h1.5v1.5h-1.5zM127.24 377.6h1.5v1.5h-1.5zM123.41 372.99h1.5v1.5h-1.5zM51.92 402.54h1.5v1.5h-1.5zM93.58 374.93h1.5v1.5h-1.5zM118.67 368.48h1.5v1.5h-1.5zM156.74 331.2h1.5v1.5h-1.5zM91.78 398.25h1.5v1.5h-1.5zM81.05 398.51h1.5v1.5h-1.5zM114.69 366.06h1.5v1.5h-1.5zM125.71 361.89h1.5v1.5h-1.5zM113.63 373.6h1.5v1.5h-1.5zM145.69 352.27h1.5v1.5h-1.5zM110.48 368.73h1.5v1.5h-1.5zM163.32 355.31h1.5v1.5h-1.5zM82.4 391.88h1.5v1.5h-1.5zM164 342.35h1.5v1.5h-1.5zM130.81 359.35h1.5v1.5h-1.5zM131.33 358.3h1.5v1.5h-1.5zM120.08 366.03h1.5v1.5h-1.5zM151.2 345.81h1.5v1.5h-1.5zM163.87 331.65h1.5v1.5h-1.5zM126.22 371.47h1.5v1.5h-1.5zM97.92 402.84h1.5v1.5h-1.5zM106.3 390.91h1.5v1.5h-1.5zM98.11 420.09h1.5v1.5h-1.5zM127.44 370.67h1.5v1.5h-1.5zM146.11 351.14h1.5v1.5h-1.5zM130.11 360.55h1.5v1.5h-1.5zM71.22 415.33h1.5v1.5h-1.5zM77.79 408.02h1.5v1.5h-1.5zM76.61 399.87h1.5v1.5h-1.5zM102.64 382.52h1.5v1.5h-1.5zM54.22 440.59h1.5v1.5h-1.5zM156.05 343.77h1.5v1.5h-1.5zM62.72 430.25h1.5v1.5h-1.5zM132.48 361.83h1.5v1.5h-1.5zM159.03 328.19h1.5v1.5h-1.5zM102.27 389.07h1.5v1.5h-1.5zM80.52 404.8h1.5v1.5h-1.5zM71.2 390.73h1.5v1.5h-1.5zM45.51 422.6h1.5v1.5h-1.5zM128.7 371.72h1.5v1.5h-1.5zM112.1 364.58h1.5v1.5h-1.5zM56.39 423.31h1.5v1.5h-1.5zM155.09 330.23h1.5v1.5h-1.5zM89.33 393.08h1.5v1.5h-1.5zM147.23 359.91h1.5v1.5h-1.5zM126.62 362.2h1.5v1.5h-1.5zM98.39 395.6h1.5v1.5h-1.5zM137.05 348.54h1.5v1.5h-1.5zM86.65 396.26h1.5v1.5h-1.5zM122.49 360.74h1.5v1.5h-1.5zM155.14 339.79h1.5v1.5h-1.5zM97.16 395.39h1.5v1.5h-1.5zM121.21 354.89h1.5v1.5h-1.5zM149.39 368.74h1.5v1.5h-1.5zM131.46 373h1.5v1.5h-1.5zM96.95 371.08h1.5v1.5h-1.5zM74.43 407.77h1.5v1.5h-1.5zM123.75 363.85h1.5v1.5h-1.5zM167.53 336.87h1.5v1.5h-1.5zM117.83 365.4h1.5v1.5h-1.5zM156.48 352.7h1.5v1.5h-1.5zM104.49 385.39h1.5v1.5h-1.5zM76.05 414.97h1.5v1.5h-1.5zM104.21 404.16h1.5v1.5h-1.5zM96.31 386.6h1.5v1.5h-1.5zM107.85 398.34h1.5v1.5h-1.5zM61.67 426.49h1.5v1.5h-1.5zM107.99 374.76h1.5v1.5h-1.5zM116.98 370.07h1.5v1.5h-1.5zM113.41 390.69h1.5v1.5h-1.5zM101.67 410.23h1.5v1.5h-1.5zM81.6 420.46h1.5v1.5h-1.5zM109.21 394.09h1.5v1.5h-1.5zM131.28 362.38h1.5v1.5h-1.5zM96.24 409.55h1.5v1.5h-1.5zM167.05 341.69h1.5v1.5h-1.5zM56.34 433.43h1.5v1.5h-1.5zM66.96 423.62h1.5v1.5h-1.5zM121.77 376.71h1.5v1.5h-1.5zM163.82 346.23h1.5v1.5h-1.5zM129.37 360.27h1.5v1.5h-1.5zM90 387.56h1.5v1.5h-1.5zM143.28 361.59h1.5v1.5h-1.5zM116.87 361.02h1.5v1.5h-1.5zM106.21 378.76h1.5v1.5h-1.5zM168.7 349.95h1.5v1.5h-1.5zM154.2 338.68h1.5v1.5h-1.5zM108.77 370.92h1.5v1.5h-1.5zM110.96 368.26h1.5v1.5h-1.5zM96.92 375.14h1.5v1.5h-1.5zM138.12 358.66h1.5v1.5h-1.5zM164.94 339.77h1.5v1.5h-1.5zM95.41 393.33h1.5v1.5h-1.5zM138.01 361.71h1.5v1.5h-1.5zM150.66 382.64h1.5v1.5h-1.5zM124.81 374.82h1.5v1.5h-1.5zM95.41 407.87h1.5v1.5h-1.5zM149.78 320.62h1.5v1.5h-1.5zM130.48 366.48h1.5v1.5h-1.5zM69.37 431.43h1.5v1.5h-1.5zM125.18 367.35h1.5v1.5h-1.5zM139.61 363.44h1.5v1.5h-1.5zM133 343.12h1.5v1.5h-1.5zM54.52 436.03h1.5v1.5h-1.5zM138.16 361.46h1.5v1.5h-1.5zM78.82 403.95h1.5v1.5h-1.5zM97.11 420.38h1.5v1.5h-1.5zM121.63 347.39h1.5v1.5h-1.5zM133.84 358.92h1.5v1.5h-1.5zM132.6 344.88h1.5v1.5h-1.5zM145.4 388.14h1.5v1.5h-1.5zM153.29 325.36h1.5v1.5h-1.5zM112.92 380.77h1.5v1.5h-1.5zM124.43 340.78h1.5v1.5h-1.5zM148.66 353.84h1.5v1.5h-1.5zM142.52 364.7h1.5v1.5h-1.5zM110.25 366.91h1.5v1.5h-1.5zM72.21 420.9h1.5v1.5h-1.5zM75.98 422.6h1.5v1.5h-1.5zM99.22 393.73h1.5v1.5h-1.5zM65.04 423.94h1.5v1.5h-1.5zM126.52 359.03h1.5v1.5h-1.5zM57.11 410.94h1.5v1.5h-1.5zM112.52 366.4h1.5v1.5h-1.5zM111.1 392.22h1.5v1.5h-1.5zM79.77 398.17h1.5v1.5h-1.5zM75.94 423.23h1.5v1.5h-1.5zM111.31 382.41h1.5v1.5h-1.5zM77.47 416.71h1.5v1.5h-1.5zM66.4 406.26h1.5v1.5h-1.5zM97.36 369.89h1.5v1.5h-1.5zM111.68 402.48h1.5v1.5h-1.5zM168.56 344.45h1.5v1.5h-1.5zM76.96 394.7h1.5v1.5h-1.5zM113.11 383.51h1.5v1.5h-1.5zM166.9 353.59h1.5v1.5h-1.5zM94.7 385.54h1.5v1.5h-1.5zM163.73 353.38h1.5v1.5h-1.5zM71.34 422.19h1.5v1.5h-1.5zM104.77 375.68h1.5v1.5h-1.5zM131.86 349.86h1.5v1.5h-1.5zM105.53 400.96h1.5v1.5h-1.5zM164.86 336.83h1.5v1.5h-1.5zM123.72 370.56h1.5v1.5h-1.5zM105.06 392.94h1.5v1.5h-1.5zM58.4 426.49h1.5v1.5h-1.5zM121.3 384.21h1.5v1.5h-1.5zM82.98 414.13h1.5v1.5h-1.5zM60.1 443.42h1.5v1.5h-1.5zM123.72 395.27h1.5v1.5h-1.5zM128.46 389.06h1.5v1.5h-1.5zM44.04 415.37h1.5v1.5h-1.5zM79.2 401.16h1.5v1.5h-1.5zM142.62 362.49h1.5v1.5h-1.5zM99.71 384.42h1.5v1.5h-1.5zM63.86 421.41h1.5v1.5h-1.5zM164.94 340.56h1.5v1.5h-1.5zM122.41 362.28h1.5v1.5h-1.5zM108.62 415.06h1.5v1.5h-1.5zM112.68 380.23h1.5v1.5h-1.5zM117.59 375.77h1.5v1.5h-1.5zM157.85 336.47h1.5v1.5h-1.5zM99.48 412.24h1.5v1.5h-1.5zM121.75 368.73h1.5v1.5h-1.5zM142.14 346.25h1.5v1.5h-1.5zM58.6 406.46h1.5v1.5h-1.5zM172.29 354.2h1.5v1.5h-1.5zM102.99 390.44h1.5v1.5h-1.5zM57.53 423.32h1.5v1.5h-1.5zM100.68 382.54h1.5v1.5h-1.5zM50.57 415.97h1.5v1.5h-1.5zM158.68 347.93h1.5v1.5h-1.5zM82.85 403.87h1.5v1.5h-1.5zM116.43 381.37h1.5v1.5h-1.5zM46.07 432.01h1.5v1.5h-1.5zM93.58 432.72h1.5v1.5h-1.5zM57.63 415.63h1.5v1.5h-1.5zM152.45 346.75h1.5v1.5h-1.5zM109.67 377.61h1.5v1.5h-1.5zM115.47 371.38h1.5v1.5h-1.5zM113.36 384.11h1.5v1.5h-1.5zM150.03 342.42h1.5v1.5h-1.5zM107.34 384.88h1.5v1.5h-1.5zM124.98 386.39h1.5v1.5h-1.5zM118.35 386.3h1.5v1.5h-1.5zM162.91 329.77h1.5v1.5h-1.5zM85.27 424.04h1.5v1.5h-1.5zM138.99 366.14h1.5v1.5h-1.5zM93.96 395.33h1.5v1.5h-1.5zM120.45 363.64h1.5v1.5h-1.5zM75.12 426.29h1.5v1.5h-1.5zM94.21 384.92h1.5v1.5h-1.5zM164.92 338.81h1.5v1.5h-1.5zM104 386.65h1.5v1.5h-1.5zM51.87 425.29h1.5v1.5h-1.5zM51.22 428.96h1.5v1.5h-1.5zM105.96 391.59h1.5v1.5h-1.5zM62.66 439.6h1.5v1.5h-1.5zM94.92 369.42h1.5v1.5h-1.5zM147.82 351.9h1.5v1.5h-1.5zM125.22 370.44h1.5v1.5h-1.5zM134.39 379.68h1.5v1.5h-1.5zM153.71 341.35h1.5v1.5h-1.5zM102.08 412.89h1.5v1.5h-1.5zM118.34 374.8h1.5v1.5h-1.5zM59.87 416.87h1.5v1.5h-1.5zM70.98 412.32h1.5v1.5h-1.5zM85.76 394.59h1.5v1.5h-1.5zM137.23 346.69h1.5v1.5h-1.5zM104.15 387.23h1.5v1.5h-1.5zM142.1 346.52h1.5v1.5h-1.5zM51.47 429.14h1.5v1.5h-1.5zM48.89 427.42h1.5v1.5h-1.5zM51.38 426.29h1.5v1.5h-1.5zM107.39 364.97h1.5v1.5h-1.5zM56.69 439.64h1.5v1.5h-1.5zM63.16 431.63h1.5v1.5h-1.5zM153.6 321.83h1.5v1.5h-1.5zM101.25 358.51h1.5v1.5h-1.5zM145.36 352.71h1.5v1.5h-1.5zM135.56 364.77h1.5v1.5h-1.5zM101.06 390.19h1.5v1.5h-1.5zM57.81 421.36h1.5v1.5h-1.5zM150.18 348.64h1.5v1.5h-1.5zM59.76 425.95h1.5v1.5h-1.5zM118.8 372.86h1.5v1.5h-1.5zM68.97 430.58h1.5v1.5h-1.5zM54.58 413.45h1.5v1.5h-1.5zM157.72 375.39h1.5v1.5h-1.5zM103.82 378.17h1.5v1.5h-1.5zM72.77 410.23h1.5v1.5h-1.5zM146.48 360.83h1.5v1.5h-1.5zM145.72 366.43h1.5v1.5h-1.5zM64.65 430.53h1.5v1.5h-1.5zM147.25 345.84h1.5v1.5h-1.5zM146.97 341.53h1.5v1.5h-1.5zM132.91 347.32h1.5v1.5h-1.5zM67.6 429.14h1.5v1.5h-1.5zM92.01 410.81h1.5v1.5h-1.5zM68.18 421.75h1.5v1.5h-1.5zM88.92 384.52h1.5v1.5h-1.5zM81.1 408.62h1.5v1.5h-1.5zM144.1 359.77h1.5v1.5h-1.5zM92.29 399.38h1.5v1.5h-1.5zM80.38 393.07h1.5v1.5h-1.5zM143.03 369.59h1.5v1.5h-1.5zM115.37 405.96h1.5v1.5h-1.5zM72.01 424.07h1.5v1.5h-1.5zM107.18 375.36h1.5v1.5h-1.5zM129.97 363.13h1.5v1.5h-1.5zM60.58 427.9h1.5v1.5h-1.5zM152.24 335.66h1.5v1.5h-1.5zM57.9 427.6h1.5v1.5h-1.5zM103.29 407.32h1.5v1.5h-1.5zM134.78 366.84h1.5v1.5h-1.5zM164.69 343.58h1.5v1.5h-1.5zM81.65 425.08h1.5v1.5h-1.5zM135.19 346.31h1.5v1.5h-1.5zM107.39 383.07h1.5v1.5h-1.5zM69.37 419.78h1.5v1.5h-1.5zM67.76 420.77h1.5v1.5h-1.5zM143.72 360.32h1.5v1.5h-1.5zM100.53 375.8h1.5v1.5h-1.5zM59.84 432h1.5v1.5h-1.5zM145.37 331.26h1.5v1.5h-1.5zM162.05 336.96h1.5v1.5h-1.5zM157.72 340.25h1.5v1.5h-1.5zM78.35 408.98h1.5v1.5h-1.5zM81.07 404.55h1.5v1.5h-1.5zM127.85 339.2h1.5v1.5h-1.5zM128.79 391.7h1.5v1.5h-1.5zM158.91 333.19h1.5v1.5h-1.5zM167.3 342.66h1.5v1.5h-1.5zM100.15 387.72h1.5v1.5h-1.5zM56.92 429.31h1.5v1.5h-1.5zM161.97 329.86h1.5v1.5h-1.5zM154.59 331.29h1.5v1.5h-1.5zM51.17 436.05h1.5v1.5h-1.5zM122.1 362.79h1.5v1.5h-1.5zM68.34 438.89h1.5v1.5h-1.5zM151.1 341.68h1.5v1.5h-1.5zM147.46 326.07h1.5v1.5h-1.5zM79.35 423.23h1.5v1.5h-1.5zM148.25 343.73h1.5v1.5h-1.5zM116.98 370.17h1.5v1.5h-1.5zM69.12 433.06h1.5v1.5h-1.5zM133.55 387.8h1.5v1.5h-1.5zM118.23 388.36h1.5v1.5h-1.5zM104.47 385.21h1.5v1.5h-1.5zM153.43 339.08h1.5v1.5h-1.5zM67.33 406.39h1.5v1.5h-1.5zM101.64 385.41h1.5v1.5h-1.5zM108.37 386.93h1.5v1.5h-1.5zM167.02 338.92h1.5v1.5h-1.5zM95.29 383.01h1.5v1.5h-1.5zM115.91 377.52h1.5v1.5h-1.5zM123.1 377.6h1.5v1.5h-1.5zM105.98 391.25h1.5v1.5h-1.5zM89.89 397.91h1.5v1.5h-1.5zM76.82 383.48h1.5v1.5h-1.5zM77.67 404.31h1.5v1.5h-1.5zM71.53 409.19h1.5v1.5h-1.5zM85.04 413.76h1.5v1.5h-1.5zM62.5 418.01h1.5v1.5h-1.5zM61.69 416.4h1.5v1.5h-1.5zM152.33 319.93h1.5v1.5h-1.5zM106.95 382.37h1.5v1.5h-1.5zM117.92 383.6h1.5v1.5h-1.5zM77.72 378.76h1.5v1.5h-1.5zM97.27 381.44h1.5v1.5h-1.5zM105.16 395.06h1.5v1.5h-1.5zM151.35 333.41h1.5v1.5h-1.5zM44.16 426.87h1.5v1.5h-1.5zM81.77 425.8h1.5v1.5h-1.5zM123.05 369.31h1.5v1.5h-1.5zM131 371.78h1.5v1.5h-1.5zM140.07 366.47h1.5v1.5h-1.5zM119.26 369.48h1.5v1.5h-1.5zM76.81 427.61h1.5v1.5h-1.5zM102.59 366.24h1.5v1.5h-1.5zM57.66 429.24h1.5v1.5h-1.5zM79.12 403.23h1.5v1.5h-1.5zM132.29 379.56h1.5v1.5h-1.5zM88.18 396.8h1.5v1.5h-1.5zM159.43 333.84h1.5v1.5h-1.5zM130.78 359.18h1.5v1.5h-1.5zM151.51 331.62h1.5v1.5h-1.5zM60.44 425.19h1.5v1.5h-1.5zM145.26 339.4h1.5v1.5h-1.5zM136.27 356.22h1.5v1.5h-1.5zM85.52 415.85h1.5v1.5h-1.5zM93.46 413.66h1.5v1.5h-1.5zM68.97 394.65h1.5v1.5h-1.5zM160.66 358.93h1.5v1.5h-1.5zM109.63 379.97h1.5v1.5h-1.5zM102.77 393.75h1.5v1.5h-1.5zM124.16 382.11h1.5v1.5h-1.5zM129.1 378.36h1.5v1.5h-1.5zM86.31 406.46h1.5v1.5h-1.5zM120.69 391.21h1.5v1.5h-1.5zM78.03 408.94h1.5v1.5h-1.5zM44.63 431.59h1.5v1.5h-1.5zM107.01 392.74h1.5v1.5h-1.5zM156.3 340.57h1.5v1.5h-1.5zM98.94 393.04h1.5v1.5h-1.5zM79.83 416.91h1.5v1.5h-1.5zM110.33 376.36h1.5v1.5h-1.5zM76.46 428.19h1.5v1.5h-1.5zM77.05 407.28h1.5v1.5h-1.5zM61.45 396.76h1.5v1.5h-1.5zM132.55 370.74h1.5v1.5h-1.5zM151.91 376.84h1.5v1.5h-1.5zM66 413.62h1.5v1.5h-1.5zM124.51 373.54h1.5v1.5h-1.5zM64.89 411.35h1.5v1.5h-1.5zM54.9 431.16h1.5v1.5h-1.5zM76.28 405.18h1.5v1.5h-1.5zM129.51 358.07h1.5v1.5h-1.5zM84.48 397.68h1.5v1.5h-1.5zM158.86 370.95h1.5v1.5h-1.5zM83.5 399.22h1.5v1.5h-1.5zM157.98 335.53h1.5v1.5h-1.5zM105.36 390.88h1.5v1.5h-1.5zM143.26 345.83h1.5v1.5h-1.5zM139.55 358.78h1.5v1.5h-1.5zM137.86 356.39h1.5v1.5h-1.5zM105.19 392.73h1.5v1.5h-1.5zM124.8 399.31h1.5v1.5h-1.5zM84.37 404h1.5v1.5h-1.5zM116.3 367.1h1.5v1.5h-1.5zM83.73 416.04h1.5v1.5h-1.5zM67.94 412.04h1.5v1.5h-1.5zM68.45 431.04h1.5v1.5h-1.5zM87.39 404.34h1.5v1.5h-1.5zM137.44 351.9h1.5v1.5h-1.5zM68.69 446.58h1.5v1.5h-1.5zM91.34 398.18h1.5v1.5h-1.5zM76.11 429.05h1.5v1.5h-1.5zM62.44 436.51h1.5v1.5h-1.5zM72.45 432.25h1.5v1.5h-1.5zM160.89 331.63h1.5v1.5h-1.5zM108.57 400.87h1.5v1.5h-1.5zM121.71 358.87h1.5v1.5h-1.5zM97.65 379.93h1.5v1.5h-1.5zM81.15 404.54h1.5v1.5h-1.5zM83.44 395.4h1.5v1.5h-1.5zM70.08 397.66h1.5v1.5h-1.5zM61.04 433.15h1.5v1.5h-1.5zM83.84 407.02h1.5v1.5h-1.5zM122.5 371.28h1.5v1.5h-1.5zM66.09 413.04h1.5v1.5h-1.5zM91.3 426.73h1.5v1.5h-1.5zM129.34 373.51h1.5v1.5h-1.5zM102.9 382.53h1.5v1.5h-1.5zM121.25 375.7h1.5v1.5h-1.5zM111.36 385.44h1.5v1.5h-1.5zM142.8 346.81h1.5v1.5h-1.5zM107.56 389.8h1.5v1.5h-1.5zM121.94 385.7h1.5v1.5h-1.5zM134.68 369.08h1.5v1.5h-1.5zM70.16 378.12h1.5v1.5h-1.5zM69.12 411.06h1.5v1.5h-1.5zM150.71 342.32h1.5v1.5h-1.5zM117.02 383.59h1.5v1.5h-1.5zM99.68 396.9h1.5v1.5h-1.5zM88.88 418.49h1.5v1.5h-1.5zM46.76 418.56h1.5v1.5h-1.5zM70.15 436.15h1.5v1.5h-1.5zM114.09 386.34h1.5v1.5h-1.5zM121.77 373.44h1.5v1.5h-1.5zM129.92 353.46h1.5v1.5h-1.5zM86.63 396.37h1.5v1.5h-1.5zM122.46 365.06h1.5v1.5h-1.5zM93.16 393.49h1.5v1.5h-1.5zM77.15 429.98h1.5v1.5h-1.5zM82.55 401.53h1.5v1.5h-1.5zM86.57 403.49h1.5v1.5h-1.5zM143.57 372.39h1.5v1.5h-1.5zM113.05 378.52h1.5v1.5h-1.5zM102.56 434.66h1.5v1.5h-1.5zM102.99 393.4h1.5v1.5h-1.5zM131.24 389.6h1.5v1.5h-1.5zM164.06 332.13h1.5v1.5h-1.5zM144.17 343.52h1.5v1.5h-1.5zM145.67 352.68h1.5v1.5h-1.5zM100.35 367.31h1.5v1.5h-1.5zM69.3 422.89h1.5v1.5h-1.5zM89.79 397.57h1.5v1.5h-1.5zM67.82 404.53h1.5v1.5h-1.5zM148.71 333.95h1.5v1.5h-1.5zM123.32 352.69h1.5v1.5h-1.5zM120.63 357.71h1.5v1.5h-1.5zM155.67 343.21h1.5v1.5h-1.5zM108.29 370.94h1.5v1.5h-1.5zM67.51 442.4h1.5v1.5h-1.5zM81.85 378.97h1.5v1.5h-1.5zM152.67 348.81h1.5v1.5h-1.5zM62.96 447.44h1.5v1.5h-1.5zM87.86 392.32h1.5v1.5h-1.5zM65.6 420.3h1.5v1.5h-1.5zM75.76 415.09h1.5v1.5h-1.5zM105.48 396.3h1.5v1.5h-1.5zM108.66 386.73h1.5v1.5h-1.5zM60.53 418.99h1.5v1.5h-1.5zM116.68 380.35h1.5v1.5h-1.5zM104.56 383.26h1.5v1.5h-1.5zM70.06 428.89h1.5v1.5h-1.5zM126.25 371.79h1.5v1.5h-1.5zM120.03 373.81h1.5v1.5h-1.5zM136.56 353.84h1.5v1.5h-1.5zM157.5 341.3h1.5v1.5h-1.5zM94.1 405.91h1.5v1.5h-1.5zM122.37 381.17h1.5v1.5h-1.5zM91.21 344.99h1.5v1.5h-1.5zM91.95 383.52h1.5v1.5h-1.5zM70.37 414.26h1.5v1.5h-1.5zM133.59 355.19h1.5v1.5h-1.5zM155.71 333.88h1.5v1.5h-1.5zM132.95 329.36h1.5v1.5h-1.5zM62.14 425.1h1.5v1.5h-1.5zM55.82 437.88h1.5v1.5h-1.5zM110.35 384.42h1.5v1.5h-1.5zM94.88 377.65h1.5v1.5h-1.5zM46.5 429.51h1.5v1.5h-1.5zM123.66 366.65h1.5v1.5h-1.5zM132.37 346.83h1.5v1.5h-1.5zM45.88 421.41h1.5v1.5h-1.5zM80.41 408.85h1.5v1.5h-1.5zM104.44 348.24h1.5v1.5h-1.5zM122.78 368.98h1.5v1.5h-1.5zM86.07 390.91h1.5v1.5h-1.5zM146.2 343.04h1.5v1.5h-1.5zM81.79 428.52h1.5v1.5h-1.5zM49.73 432.07h1.5v1.5h-1.5zM112.46 385.2h1.5v1.5h-1.5zM87.81 399.96h1.5v1.5h-1.5zM115.62 367.32h1.5v1.5h-1.5zM144.06 353.35h1.5v1.5h-1.5zM148.97 343.1h1.5v1.5h-1.5zM114.25 381.49h1.5v1.5h-1.5zM69.82 424.05h1.5v1.5h-1.5zM97.26 401.76h1.5v1.5h-1.5zM118.64 373.23h1.5v1.5h-1.5zM59.87 413.89h1.5v1.5h-1.5zM156.63 343.7h1.5v1.5h-1.5zM66.72 423.79h1.5v1.5h-1.5zM146.92 358.88h1.5v1.5h-1.5zM102.72 376.69h1.5v1.5h-1.5zM148.51 316.09h1.5v1.5h-1.5zM145.61 331.02h1.5v1.5h-1.5zM106.79 373.52h1.5v1.5h-1.5zM143.95 337.87h1.5v1.5h-1.5zM146.26 366.09h1.5v1.5h-1.5zM94.98 386.37h1.5v1.5h-1.5zM154.42 345.03h1.5v1.5h-1.5zM54.09 418.03h1.5v1.5h-1.5zM138.19 358.71h1.5v1.5h-1.5zM70.25 407.4h1.5v1.5h-1.5zM130.29 367.86h1.5v1.5h-1.5zM118.13 396.7h1.5v1.5h-1.5zM127.73 359.71h1.5v1.5h-1.5zM70.18 427.47h1.5v1.5h-1.5zM45.59 425.62h1.5v1.5h-1.5zM96.29 394.14h1.5v1.5h-1.5zM152.55 322.41h1.5v1.5h-1.5zM109.25 390.51h1.5v1.5h-1.5zM95.19 394.81h1.5v1.5h-1.5zM136.2 362.88h1.5v1.5h-1.5zM128.47 353.54h1.5v1.5h-1.5zM106.92 380.57h1.5v1.5h-1.5zM113.68 403.19h1.5v1.5h-1.5zM65.28 443.08h1.5v1.5h-1.5zM134.23 360.95h1.5v1.5h-1.5zM100.58 376.21h1.5v1.5h-1.5zM94.15 395.24h1.5v1.5h-1.5zM149.96 355.68h1.5v1.5h-1.5zM53.25 428.46h1.5v1.5h-1.5zM82.13 438.39h1.5v1.5h-1.5zM58.02 420.58h1.5v1.5h-1.5zM149.63 330.33h1.5v1.5h-1.5zM97.67 387.36h1.5v1.5h-1.5zM113.81 373.42h1.5v1.5h-1.5zM67.64 400.67h1.5v1.5h-1.5zM154.27 341.92h1.5v1.5h-1.5zM65.49 427.82h1.5v1.5h-1.5zM97.64 406.3h1.5v1.5h-1.5zM96.05 372.65h1.5v1.5h-1.5zM91.95 397.22h1.5v1.5h-1.5zM137.11 402.04h1.5v1.5h-1.5zM60.1 414.7h1.5v1.5h-1.5zM91.04 387.49h1.5v1.5h-1.5zM139.14 358.25h1.5v1.5h-1.5zM66.77 425.35h1.5v1.5h-1.5zM129.91 382.18h1.5v1.5h-1.5zM109.48 379.19h1.5v1.5h-1.5zM155.02 348.22h1.5v1.5h-1.5zM99.59 398.06h1.5v1.5h-1.5zM124.64 382.02h1.5v1.5h-1.5zM117.71 384.38h1.5v1.5h-1.5zM56.42 432.84h1.5v1.5h-1.5zM149.48 349.25h1.5v1.5h-1.5zM144.03 347.4h1.5v1.5h-1.5zM98.23 395.23h1.5v1.5h-1.5zM131.51 372.55h1.5v1.5h-1.5zM145.56 360.43h1.5v1.5h-1.5zM99.96 388.69h1.5v1.5h-1.5zM85.01 407.4h1.5v1.5h-1.5zM98.58 403.78h1.5v1.5h-1.5zM80.75 404.54h1.5v1.5h-1.5zM134.77 370.69h1.5v1.5h-1.5zM131.34 366.99h1.5v1.5h-1.5zM83.64 446.99h1.5v1.5h-1.5zM127.27 409.85h1.5v1.5h-1.5zM159.54 341.13h1.5v1.5h-1.5zM79.75 398.45h1.5v1.5h-1.5zM159.01 326.72h1.5v1.5h-1.5zM99.48 374.33h1.5v1.5h-1.5zM111.86 392.56h1.5v1.5h-1.5zM166.15 337.42h1.5v1.5h-1.5zM127.4 339.51h1.5v1.5h-1.5zM103.46 401.09h1.5v1.5h-1.5zM53.91 438.44h1.5v1.5h-1.5zM86.5 412.7h1.5v1.5h-1.5zM81.65 398.74h1.5v1.5h-1.5zM129.12 367.04h1.5v1.5h-1.5zM59.92 440.6h1.5v1.5h-1.5zM92.64 408.29h1.5v1.5h-1.5zM161.13 373.72h1.5v1.5h-1.5zM94.82 377.92h1.5v1.5h-1.5zM96.28 410.93h1.5v1.5h-1.5zM92.71 390.37h1.5v1.5h-1.5zM135.96 364.99h1.5v1.5h-1.5zM114.38 385.72h1.5v1.5h-1.5zM158.87 350.86h1.5v1.5h-1.5zM146.94 320.44h1.5v1.5h-1.5zM115.53 366.94h1.5v1.5h-1.5zM122.86 386.63h1.5v1.5h-1.5zM147.21 370.19h1.5v1.5h-1.5zM90.64 409.74h1.5v1.5h-1.5zM74.26 409.96h1.5v1.5h-1.5zM158.92 336.68h1.5v1.5h-1.5zM134.54 349.96h1.5v1.5h-1.5zM148.53 334.79h1.5v1.5h-1.5zM106.1 385.18h1.5v1.5h-1.5zM172.82 356.7h1.5v1.5h-1.5zM69.06 425.1h1.5v1.5h-1.5zM146.01 352.98h1.5v1.5h-1.5zM134.74 363.86h1.5v1.5h-1.5zM120.2 351.82h1.5v1.5h-1.5zM127.92 365.56h1.5v1.5h-1.5zM54.49 422.68h1.5v1.5h-1.5zM123.36 367.39h1.5v1.5h-1.5zM112.5 374.86h1.5v1.5h-1.5zM74.62 420.05h1.5v1.5h-1.5zM84.39 402.51h1.5v1.5h-1.5zM79.4 407.33h1.5v1.5h-1.5zM119.73 371.93h1.5v1.5h-1.5zM82.06 400.32h1.5v1.5h-1.5zM130.11 363.82h1.5v1.5h-1.5zM117.99 372.4h1.5v1.5h-1.5zM107.55 398.79h1.5v1.5h-1.5zM60.85 424.97h1.5v1.5h-1.5zM103.83 398.78h1.5v1.5h-1.5zM153.04 356.81h1.5v1.5h-1.5zM117.07 370.79h1.5v1.5h-1.5zM133.21 374.52h1.5v1.5h-1.5zM166.16 338.7h1.5v1.5h-1.5zM141.32 350.4h1.5v1.5h-1.5zM106.33 392.26h1.5v1.5h-1.5zM109.87 396.41h1.5v1.5h-1.5zM92.55 431.21h1.5v1.5h-1.5zM110.04 412.39h1.5v1.5h-1.5zM117.29 359.92h1.5v1.5h-1.5zM57.08 437.51h1.5v1.5h-1.5zM86.18 397.33h1.5v1.5h-1.5zM111.67 368.09h1.5v1.5h-1.5zM59.15 423.92h1.5v1.5h-1.5zM132.74 378.91h1.5v1.5h-1.5zM116.33 388.34h1.5v1.5h-1.5zM104.92 373.68h1.5v1.5h-1.5zM91.25 395.42h1.5v1.5h-1.5zM145.1 360.65h1.5v1.5h-1.5zM138.99 353.86h1.5v1.5h-1.5zM43.74 413.93h1.5v1.5h-1.5zM119.81 382.89h1.5v1.5h-1.5zM119.53 386.73h1.5v1.5h-1.5zM65.63 414.6h1.5v1.5h-1.5zM140.53 349.33h1.5v1.5h-1.5zM94.29 399.5h1.5v1.5h-1.5zM146.79 354.91h1.5v1.5h-1.5zM146.93 335.48h1.5v1.5h-1.5zM67.07 421.85h1.5v1.5h-1.5zM92.03 394.86h1.5v1.5h-1.5zM79.32 398h1.5v1.5h-1.5zM149.14 335.44h1.5v1.5h-1.5zM163.56 334.08h1.5v1.5h-1.5zM55.45 423.16h1.5v1.5h-1.5zM65.03 424.48h1.5v1.5h-1.5zM85.08 392.4h1.5v1.5h-1.5zM140.97 348.25h1.5v1.5h-1.5zM146.5 344.59h1.5v1.5h-1.5zM87.56 389.48h1.5v1.5h-1.5zM100.35 404.72h1.5v1.5h-1.5zM106.05 390.56h1.5v1.5h-1.5zM90.61 394.61h1.5v1.5h-1.5zM168.55 335.69h1.5v1.5h-1.5zM57.82 415.83h1.5v1.5h-1.5zM104.68 386.64h1.5v1.5h-1.5zM165.74 334.53h1.5v1.5h-1.5zM110.33 398.89h1.5v1.5h-1.5zM116.39 372.8h1.5v1.5h-1.5zM107.73 375.6h1.5v1.5h-1.5zM95.44 405.74h1.5v1.5h-1.5zM150.17 351.53h1.5v1.5h-1.5zM111.49 390.2h1.5v1.5h-1.5zM162.59 334.11h1.5v1.5h-1.5zM137.46 371.04h1.5v1.5h-1.5zM64.43 420.75h1.5v1.5h-1.5zM159.81 330.11h1.5v1.5h-1.5zM70.42 440.49h1.5v1.5h-1.5zM60.8 428.69h1.5v1.5h-1.5zM136.7 349.13h1.5v1.5h-1.5zM137.18 354.05h1.5v1.5h-1.5zM108.89 385.24h1.5v1.5h-1.5zM170.07 345.58h1.5v1.5h-1.5zM75.99 400.57h1.5v1.5h-1.5zM136.42 365h1.5v1.5h-1.5zM56.35 430.07h1.5v1.5h-1.5zM159.72 328.49h1.5v1.5h-1.5zM116.17 368.07h1.5v1.5h-1.5zM144.09 344.4h1.5v1.5h-1.5zM64.68 423.05h1.5v1.5h-1.5zM63.42 426.32h1.5v1.5h-1.5zM125.52 384.8h1.5v1.5h-1.5zM73.61 404.23h1.5v1.5h-1.5zM99.08 381.43h1.5v1.5h-1.5zM63.03 431.79h1.5v1.5h-1.5zM171.36 352.91h1.5v1.5h-1.5zM137.28 356.01h1.5v1.5h-1.5zM96.03 388.04h1.5v1.5h-1.5zM72.96 385.5h1.5v1.5h-1.5zM133.6 355.71h1.5v1.5h-1.5zM75.28 397.24h1.5v1.5h-1.5zM141.04 363.83h1.5v1.5h-1.5zM98.96 383.54h1.5v1.5h-1.5zM144.37 340.41h1.5v1.5h-1.5zM132.23 371.81h1.5v1.5h-1.5zM139.06 396.02h1.5v1.5h-1.5zM120.6 384.25h1.5v1.5h-1.5zM157.9 374.82h1.5v1.5h-1.5zM140.22 371.49h1.5v1.5h-1.5zM93.47 401.44h1.5v1.5h-1.5zM120.73 381.89h1.5v1.5h-1.5zM99.42 399.16h1.5v1.5h-1.5zM137.93 387.36h1.5v1.5h-1.5zM114.54 385.33h1.5v1.5h-1.5zM127.18 383.07h1.5v1.5h-1.5zM95.22 425.89h1.5v1.5h-1.5zM133.62 368.8h1.5v1.5h-1.5zM72.97 428.26h1.5v1.5h-1.5zM103.71 395.42h1.5v1.5h-1.5zM85.83 410.73h1.5v1.5h-1.5zM76.28 429.85h1.5v1.5h-1.5zM88.07 431.62h1.5v1.5h-1.5zM134.94 369.57h1.5v1.5h-1.5zM147.79 365.56h1.5v1.5h-1.5zM88.63 428.08h1.5v1.5h-1.5zM140.76 372.31h1.5v1.5h-1.5zM144.55 369.73h1.5v1.5h-1.5zM129.75 403.83h1.5v1.5h-1.5zM123.6 378.71h1.5v1.5h-1.5zM108.85 428.74h1.5v1.5h-1.5zM119.88 383.33h1.5v1.5h-1.5zM137.76 359.61h1.5v1.5h-1.5zM144.58 369.25h1.5v1.5h-1.5zM127.41 371.66h1.5v1.5h-1.5zM78.94 425.14h1.5v1.5h-1.5zM131.76 374.94h1.5v1.5h-1.5zM78.6 426.84h1.5v1.5h-1.5zM139.46 356.49h1.5v1.5h-1.5zM114.71 399.69h1.5v1.5h-1.5zM141.12 362.11h1.5v1.5h-1.5zM108.34 393.28h1.5v1.5h-1.5zM79.78 415.75h1.5v1.5h-1.5zM122.25 385.02h1.5v1.5h-1.5zM136.32 359.65h1.5v1.5h-1.5zM78.13 424.49h1.5v1.5h-1.5zM110.38 383.72h1.5v1.5h-1.5zM144.51 370.19h1.5v1.5h-1.5zM93.41 428.63h1.5v1.5h-1.5zM134.23 393.88h1.5v1.5h-1.5zM94.35 412.35h1.5v1.5h-1.5zM130.18 403.01h1.5v1.5h-1.5zM116.5 398.02h1.5v1.5h-1.5zM104.49 397.64h1.5v1.5h-1.5zM133.56 366.93h1.5v1.5h-1.5zM124.42 402.3h1.5v1.5h-1.5zM85.52 442.05h1.5v1.5h-1.5zM108.78 395.19h1.5v1.5h-1.5zM118.27 392.19h1.5v1.5h-1.5zM122 379.14h1.5v1.5h-1.5zM114.01 412.33h1.5v1.5h-1.5zM92.83 436.57h1.5v1.5h-1.5zM111.43 390.14h1.5v1.5h-1.5zM103.1 392.8h1.5v1.5h-1.5zM128.2 372.94h1.5v1.5h-1.5zM76.08 427.36h1.5v1.5h-1.5zM101.93 402.68h1.5v1.5h-1.5zM147.85 373.53h1.5v1.5h-1.5zM117.22 381.87h1.5v1.5h-1.5zM117.94 382.27h1.5v1.5h-1.5zM126.34 375.64h1.5v1.5h-1.5zM126.02 377.6h1.5v1.5h-1.5zM115.35 385.51h1.5v1.5h-1.5zM108.32 386.16h1.5v1.5h-1.5zM108.63 420.56h1.5v1.5h-1.5zM105.21 396.42h1.5v1.5h-1.5zM144.61 355.74h1.5v1.5h-1.5zM126.95 368.58h1.5v1.5h-1.5zM84.29 435.05h1.5v1.5h-1.5zM129.04 388.3h1.5v1.5h-1.5zM110.51 400.39h1.5v1.5h-1.5zM96.79 431.98h1.5v1.5h-1.5zM113.25 385.41h1.5v1.5h-1.5zM80.02 416.32h1.5v1.5h-1.5zM137.3 398.52h1.5v1.5h-1.5zM75.63 425.97h1.5v1.5h-1.5zM123.86 378.15h1.5v1.5h-1.5zM76.39 426.11h1.5v1.5h-1.5zM93.83 405.84h1.5v1.5h-1.5zM91.06 423.09h1.5v1.5h-1.5zM113.65 384.1h1.5v1.5h-1.5zM109.01 393.21h1.5v1.5h-1.5zM130.2 370.15h1.5v1.5h-1.5zM116.58 411.16h1.5v1.5h-1.5zM142.18 380.3h1.5v1.5h-1.5zM93.82 403.36h1.5v1.5h-1.5zM144.59 358.65h1.5v1.5h-1.5zM132.15 366.64h1.5v1.5h-1.5zM127.74 368.58h1.5v1.5h-1.5zM105.75 413.62h1.5v1.5h-1.5zM83.52 422.87h1.5v1.5h-1.5zM127.14 382.15h1.5v1.5h-1.5zM129.11 405.04h1.5v1.5h-1.5zM79.58 430.66h1.5v1.5h-1.5zM83.3 425.69h1.5v1.5h-1.5zM136.18 379.27h1.5v1.5h-1.5zM70.67 425.42h1.5v1.5h-1.5zM81.69 412.45h1.5v1.5h-1.5zM86.47 430.44h1.5v1.5h-1.5zM115.15 411.19h1.5v1.5h-1.5zM129.71 368.46h1.5v1.5h-1.5zM98.02 424.84h1.5v1.5h-1.5zM125.06 388.34h1.5v1.5h-1.5zM138.65 358.25h1.5v1.5h-1.5zM119.04 386.62h1.5v1.5h-1.5zM106.5 390.31h1.5v1.5h-1.5zM149.71 367.5h1.5v1.5h-1.5zM105.86 411.92h1.5v1.5h-1.5zM69.21 425.59h1.5v1.5h-1.5zM112.06 391.42h1.5v1.5h-1.5zM85.87 428.88h1.5v1.5h-1.5zM120.29 398.24h1.5v1.5h-1.5zM86.3 411.22h1.5v1.5h-1.5zM102.55 419.08h1.5v1.5h-1.5zM86.83 415.49h1.5v1.5h-1.5zM153.3 368.42h1.5v1.5h-1.5zM109.56 397.09h1.5v1.5h-1.5zM84.28 434.99h1.5v1.5h-1.5zM117.95 380.51h1.5v1.5h-1.5zM102.87 410.92h1.5v1.5h-1.5zM127.63 366.71h1.5v1.5h-1.5zM125.56 374.12h1.5v1.5h-1.5zM143.75 365.28h1.5v1.5h-1.5zM118.92 404.87h1.5v1.5h-1.5zM88.97 429h1.5v1.5h-1.5zM121.22 391.41h1.5v1.5h-1.5zM96.87 406.15h1.5v1.5h-1.5zM105.88 415.19h1.5v1.5h-1.5zM127.55 370.46h1.5v1.5h-1.5zM126.38 375.32h1.5v1.5h-1.5zM136.99 366.58h1.5v1.5h-1.5zM107.71 395.75h1.5v1.5h-1.5zM108.08 394.14h1.5v1.5h-1.5zM139.86 360.95h1.5v1.5h-1.5zM105.72 396.1h1.5v1.5h-1.5zM124.58 376.15h1.5v1.5h-1.5zM121.1 385.54h1.5v1.5h-1.5zM78.75 417.16h1.5v1.5h-1.5zM124 379.62h1.5v1.5h-1.5zM132.78 365.04h1.5v1.5h-1.5zM106.22 396.07h1.5v1.5h-1.5zM141.12 368.28h1.5v1.5h-1.5zM116.04 384.64h1.5v1.5h-1.5zM126.42 393.85h1.5v1.5h-1.5zM99.26 431.38h1.5v1.5h-1.5zM78.28 422.65h1.5v1.5h-1.5zM162.57 394.01h1.5v1.5h-1.5zM113.95 384.32h1.5v1.5h-1.5zM132.62 367.03h1.5v1.5h-1.5zM137.55 386.71h1.5v1.5h-1.5zM92.38 413.28h1.5v1.5h-1.5zM144.9 371.27h1.5v1.5h-1.5zM119.2 389.53h1.5v1.5h-1.5zM78.82 435.11h1.5v1.5h-1.5zM150.7 364.12h1.5v1.5h-1.5zM127.47 371.9h1.5v1.5h-1.5zM81.57 433.67h1.5v1.5h-1.5zM129.07 369.19h1.5v1.5h-1.5zM135.41 372.11h1.5v1.5h-1.5zM111.47 386.69h1.5v1.5h-1.5zM72.02 427.24h1.5v1.5h-1.5zM101.29 438.86h1.5v1.5h-1.5zM92.62 406.33h1.5v1.5h-1.5zM106.95 393.69h1.5v1.5h-1.5zM96.23 408.61h1.5v1.5h-1.5zM141.22 388.75h1.5v1.5h-1.5zM85.93 439.38h1.5v1.5h-1.5zM137.12 366.08h1.5v1.5h-1.5zM100.44 398.09h1.5v1.5h-1.5zM111.35 400.36h1.5v1.5h-1.5zM117.22 381.46h1.5v1.5h-1.5zM136.76 362.9h1.5v1.5h-1.5zM102.66 410.92h1.5v1.5h-1.5zM90.28 407.79h1.5v1.5h-1.5zM154.13 372.53h1.5v1.5h-1.5zM130.66 372.29h1.5v1.5h-1.5zM85.75 430.92h1.5v1.5h-1.5zM83.03 432.03h1.5v1.5h-1.5zM146.83 365.36h1.5v1.5h-1.5zM94.29 435.05h1.5v1.5h-1.5zM101.9 405.37h1.5v1.5h-1.5zM87.47 418.83h1.5v1.5h-1.5zM123.06 398.21h1.5v1.5h-1.5zM89.57 416.61h1.5v1.5h-1.5zM140.73 354h1.5v1.5h-1.5zM108.19 395.12h1.5v1.5h-1.5zM158.36 377.78h1.5v1.5h-1.5zM95.43 421.72h1.5v1.5h-1.5zM124.44 372.33h1.5v1.5h-1.5zM96.81 414.68h1.5v1.5h-1.5zM118.91 376.29h1.5v1.5h-1.5zM97.15 403.61h1.5v1.5h-1.5zM108.9 394.7h1.5v1.5h-1.5zM121.31 374.35h1.5v1.5h-1.5zM125.92 383.57h1.5v1.5h-1.5zM115.6 381.66h1.5v1.5h-1.5zM143.38 383.2h1.5v1.5h-1.5zM143.26 362.44h1.5v1.5h-1.5zM81.45 428.87h1.5v1.5h-1.5zM80.94 426.23h1.5v1.5h-1.5zM139.97 365.45h1.5v1.5h-1.5zM99.59 440.58h1.5v1.5h-1.5zM92.32 408.93h1.5v1.5h-1.5zM143.13 371.96h1.5v1.5h-1.5zM112.15 392.9h1.5v1.5h-1.5zM145.22 360.2h1.5v1.5h-1.5zM114.07 391.78h1.5v1.5h-1.5zM107.46 399.47h1.5v1.5h-1.5zM116.6 379.19h1.5v1.5h-1.5zM135.68 364.99h1.5v1.5h-1.5zM98.42 421.41h1.5v1.5h-1.5zM103.07 399.79h1.5v1.5h-1.5zM98.72 405.53h1.5v1.5h-1.5zM118.67 388.77h1.5v1.5h-1.5zM125.18 380.11h1.5v1.5h-1.5zM99.39 411.87h1.5v1.5h-1.5zM79.55 417.27h1.5v1.5h-1.5zM93.17 412.12h1.5v1.5h-1.5zM119.97 406.04h1.5v1.5h-1.5zM74.9 425.01h1.5v1.5h-1.5zM99.86 405.16h1.5v1.5h-1.5zM137.78 359.42h1.5v1.5h-1.5zM126.26 379h1.5v1.5h-1.5zM154.94 388.97h1.5v1.5h-1.5zM122 377.53h1.5v1.5h-1.5zM90.64 412.82h1.5v1.5h-1.5zM73.48 424.49h1.5v1.5h-1.5zM92.06 410.95h1.5v1.5h-1.5zM84.31 414.32h1.5v1.5h-1.5zM92.65 403.26h1.5v1.5h-1.5zM101.93 408.58h1.5v1.5h-1.5zM88.86 422.07h1.5v1.5h-1.5zM99.06 411.91h1.5v1.5h-1.5zM109.71 393.58h1.5v1.5h-1.5zM87.17 422.91h1.5v1.5h-1.5zM70.94 427.36h1.5v1.5h-1.5zM131.02 379.86h1.5v1.5h-1.5zM121.48 375.16h1.5v1.5h-1.5zM108.85 396.45h1.5v1.5h-1.5zM162.47 375.79h1.5v1.5h-1.5zM117.91 390.88h1.5v1.5h-1.5zM144.74 368.89h1.5v1.5h-1.5zM106.62 398.88h1.5v1.5h-1.5zM148.76 373.89h1.5v1.5h-1.5zM86.42 423.03h1.5v1.5h-1.5zM100.47 398.66h1.5v1.5h-1.5zM134.05 367.89h1.5v1.5h-1.5zM73.88 422.86h1.5v1.5h-1.5zM121.3 384.38h1.5v1.5h-1.5zM140.43 360.38h1.5v1.5h-1.5zM100.53 416.84h1.5v1.5h-1.5zM102.78 394.56h1.5v1.5h-1.5zM127.4 386.04h1.5v1.5h-1.5zM88.65 417.2h1.5v1.5h-1.5zM109.74 420.21h1.5v1.5h-1.5zM149.03 372.95h1.5v1.5h-1.5zM106.07 410.2h1.5v1.5h-1.5zM110.49 413.36h1.5v1.5h-1.5zM97.7 400.12h1.5v1.5h-1.5zM148.76 362.57h1.5v1.5h-1.5zM145.63 374.55h1.5v1.5h-1.5zM109.04 400.99h1.5v1.5h-1.5zM143.82 355.43h1.5v1.5h-1.5zM134.93 373.92h1.5v1.5h-1.5zM157.57 372.41h1.5v1.5h-1.5zM88.01 424.59h1.5v1.5h-1.5zM117.06 388.07h1.5v1.5h-1.5zM106.59 394.09h1.5v1.5h-1.5zM135.56 365.5h1.5v1.5h-1.5zM139.14 355.52h1.5v1.5h-1.5zM132.18 378.43h1.5v1.5h-1.5zM140.64 363.7h1.5v1.5h-1.5zM112.89 409.19h1.5v1.5h-1.5zM128.96 375.35h1.5v1.5h-1.5zM82.14 419.12h1.5v1.5h-1.5zM117.64 393.52h1.5v1.5h-1.5zM79.86 430.71h1.5v1.5h-1.5zM106.74 419.23h1.5v1.5h-1.5zM111.62 386.72h1.5v1.5h-1.5zM69.13 425.82h1.5v1.5h-1.5zM105.05 423.58h1.5v1.5h-1.5zM108.01 395.82h1.5v1.5h-1.5zM124.1 385.34h1.5v1.5h-1.5zM110.68 395.65h1.5v1.5h-1.5zM119.04 375.31h1.5v1.5h-1.5zM93.57 409.99h1.5v1.5h-1.5zM155.72 367.06h1.5v1.5h-1.5zM117.46 389.36h1.5v1.5h-1.5zM118.97 393.13h1.5v1.5h-1.5zM113.19 400.48h1.5v1.5h-1.5zM127.68 383h1.5v1.5h-1.5zM118.41 391.16h1.5v1.5h-1.5zM132.14 365.34h1.5v1.5h-1.5zM94.71 404.91h1.5v1.5h-1.5zM136.59 364.94h1.5v1.5h-1.5zM92.71 409.8h1.5v1.5h-1.5zM106.8 402.37h1.5v1.5h-1.5zM94.38 408.95h1.5v1.5h-1.5zM117.8 397.23h1.5v1.5h-1.5zM129.09 373.84h1.5v1.5h-1.5zM95.06 425.23h1.5v1.5h-1.5zM117.21 394.58h1.5v1.5h-1.5zM139.12 368.33h1.5v1.5h-1.5zM103.32 416.24h1.5v1.5h-1.5zM120.32 376.93h1.5v1.5h-1.5zM114.93 386.99h1.5v1.5h-1.5zM140.27 376.66h1.5v1.5h-1.5zM96.73 399.12h1.5v1.5h-1.5zM115.24 401.22h1.5v1.5h-1.5zM93.58 435.6h1.5v1.5h-1.5zM80.89 415.29h1.5v1.5h-1.5zM140.26 365.87h1.5v1.5h-1.5zM119.11 386.27h1.5v1.5h-1.5zM117.59 396.66h1.5v1.5h-1.5zM109.04 385.34h1.5v1.5h-1.5zM106.89 396.46h1.5v1.5h-1.5zM83.09 428.93h1.5v1.5h-1.5zM123.17 409.93h1.5v1.5h-1.5zM102.68 414.06h1.5v1.5h-1.5zM147 373.67h1.5v1.5h-1.5zM113.01 382.49h1.5v1.5h-1.5zM129.17 382.19h1.5v1.5h-1.5zM73.22 426.05h1.5v1.5h-1.5zM137.47 368.97h1.5v1.5h-1.5zM79.61 415.8h1.5v1.5h-1.5zM82.86 420.83h1.5v1.5h-1.5zM80.26 425.78h1.5v1.5h-1.5zM89.66 435.29h1.5v1.5h-1.5zM125.38 368.92h1.5v1.5h-1.5zM79.15 420.4h1.5v1.5h-1.5zM129.91 370.75h1.5v1.5h-1.5zM77.45 417.08h1.5v1.5h-1.5zM99.91 419.86h1.5v1.5h-1.5zM129.48 375.96h1.5v1.5h-1.5zM131.46 373.87h1.5v1.5h-1.5zM137.63 362.63h1.5v1.5h-1.5zM84.47 414.44h1.5v1.5h-1.5zM133.8 366.91h1.5v1.5h-1.5zM145.84 364.88h1.5v1.5h-1.5zM83 416.52h1.5v1.5h-1.5zM106.11 389.8h1.5v1.5h-1.5zM117.27 390.76h1.5v1.5h-1.5zM77.12 419.65h1.5v1.5h-1.5zM85.11 410.37h1.5v1.5h-1.5zM86.57 415.54h1.5v1.5h-1.5zM127.9 406.22h1.5v1.5h-1.5z" fill="#c9c5c9"/>
<circle cx="73.3" cy="414.4" r="2.05" fill="#62b552"/>
<circle cx="146.2" cy="368.2" r="2.05" fill="#5d60b0"/>
<circle cx="107.7" cy="381.9" r="2.05" fill="#5d60b0"/>
<circle cx="101" cy="362.5" r="2.05" fill="#5d60b0"/>
<circle cx="78.3" cy="427.2" r="2.05" fill="#62b552"/>
<circle cx="99.9" cy="395.7" r="2.05" fill="#5d60b0"/>
<circle cx="105.8" cy="380.1" r="2.05" fill="#62b552"/>
<circle cx="97" cy="386.2" r="2.05" fill="#5d60b0"/>
<circle cx="101.3" cy="407.2" r="2.05" fill="#62b552"/>
<circle cx="112.3" cy="391.4" r="2.05" fill="#62b552"/>
<circle cx="113.8" cy="376.2" r="2.05" fill="#5d60b0"/>
<circle cx="129.6" cy="359.9" r="2.05" fill="#5d60b0"/>
<circle cx="81.1" cy="416.2" r="2.05" fill="#62b552"/>
<circle cx="146.2" cy="364.6" r="2.05" fill="#5d60b0"/>
<circle cx="145.5" cy="354" r="2.05" fill="#5d60b0"/>
<circle cx="94.2" cy="387.6" r="2.05" fill="#5d60b0"/>
<circle cx="67.7" cy="432.6" r="2.05" fill="#62b552"/>
<circle cx="142" cy="349" r="2.05" fill="#5d60b0"/>
<circle cx="138.4" cy="343.8" r="2.05" fill="#5d60b0"/>
<circle cx="71.9" cy="424" r="2.05" fill="#5d60b0"/>
<circle cx="53.5" cy="417" r="2.05" fill="#5d60b0"/>
<circle cx="67.7" cy="417" r="2.05" fill="#5d60b0"/>
<circle cx="143" cy="356.8" r="2.05" fill="#5d60b0"/>
<circle cx="105.5" cy="373" r="2.05" fill="#5d60b0"/>
<circle cx="78.6" cy="407.7" r="2.05" fill="#5d60b0"/>
<circle cx="121.3" cy="421.2" r="2.05" fill="#62b552"/>
<circle cx="127.5" cy="372.7" r="2.05" fill="#62b552"/>
<circle cx="118" cy="396.4" r="2.05" fill="#5d60b0"/>
<circle cx="132.5" cy="357.4" r="2.05" fill="#62b552"/>
<circle cx="89" cy="411.3" r="2.05" fill="#5d60b0"/>
<circle cx="78.3" cy="412" r="2.05" fill="#62b552"/>
<circle cx="74" cy="416.2" r="2.05" fill="#5d60b0"/>
<circle cx="92.8" cy="431.6" r="2.05" fill="#5d60b0"/>
<circle cx="74.8" cy="431.8" r="2.05" fill="#62b552"/>
<circle cx="100.6" cy="401.2" r="2.05" fill="#5d60b0"/>
<circle cx="66.7" cy="423.5" r="2.05" fill="#5d60b0"/>
<circle cx="154.3" cy="333.5" r="2.05" fill="#62b552"/>
<circle cx="115.2" cy="415.1" r="2.05" fill="#62b552"/>
<circle cx="68.4" cy="427.6" r="2.05" fill="#5d60b0"/>
<circle cx="68.4" cy="434.7" r="2.05" fill="#62b552"/>
<circle cx="71.5" cy="419.8" r="2.05" fill="#62b552"/>
<circle cx="103.4" cy="401.8" r="2.05" fill="#62b552"/>
<circle cx="98.2" cy="401.3" r="2.05" fill="#5d60b0"/>
<circle cx="87.5" cy="409.9" r="2.05" fill="#5d60b0"/>
<circle cx="84" cy="404.9" r="2.05" fill="#62b552"/>
<circle cx="149.1" cy="353.3" r="2.05" fill="#5d60b0"/>
<circle cx="86" cy="382.9" r="2.05" fill="#5d60b0"/>
<circle cx="61.3" cy="435.7" r="2.05" fill="#62b552"/>
<circle cx="95.3" cy="391.4" r="2.05" fill="#5d60b0"/>
<circle cx="117.2" cy="379.1" r="2.05" fill="#5d60b0"/>
<circle cx="118.3" cy="382.9" r="2.05" fill="#62b552"/>
<circle cx="119.7" cy="371.3" r="2.05" fill="#5d60b0"/>
<circle cx="116.6" cy="358.2" r="2.05" fill="#5d60b0"/>
<circle cx="123.5" cy="407.5" r="2.05" fill="#62b552"/>
<circle cx="112.6" cy="384.3" r="2.05" fill="#5d60b0"/>
<circle cx="104.8" cy="384.8" r="2.05" fill="#62b552"/>
<circle cx="122.6" cy="361.1" r="2.05" fill="#5d60b0"/>
<circle cx="131.8" cy="384" r="2.05" fill="#5d60b0"/>
<circle cx="162.7" cy="344.7" r="2.05" fill="#62b552"/>
<circle cx="86.8" cy="402" r="2.05" fill="#5d60b0"/>
<circle cx="121.1" cy="367.7" r="2.05" fill="#5d60b0"/>
<circle cx="96.7" cy="430.4" r="2.05" fill="#62b552"/>
<circle cx="51.3" cy="434.4" r="2.05" fill="#5d60b0"/>
<circle cx="81.1" cy="395.7" r="2.05" fill="#5d60b0"/>
<circle cx="104.1" cy="404.6" r="2.05" fill="#5d60b0"/>
<circle cx="89.4" cy="418.8" r="2.05" fill="#5d60b0"/>
<circle cx="144.8" cy="360.4" r="2.05" fill="#5d60b0"/>
<circle cx="114" cy="372" r="2.05" fill="#62b552"/>
<circle cx="139.9" cy="357.5" r="2.05" fill="#5d60b0"/>
<circle cx="94.6" cy="402.8" r="2.05" fill="#62b552"/>
<circle cx="134.6" cy="379.1" r="2.05" fill="#62b552"/>
<circle cx="124.7" cy="374.1" r="2.05" fill="#5d60b0"/>
<circle cx="66.2" cy="413.4" r="2.05" fill="#5d60b0"/>
<circle cx="89.2" cy="382.9" r="2.05" fill="#5d60b0"/>
<circle cx="64.8" cy="422.9" r="2.05" fill="#5d60b0"/>
<circle cx="93.2" cy="395.4" r="2.05" fill="#5d60b0"/>
<circle cx="114.2" cy="404" r="2.05" fill="#62b552"/>
<circle cx="97" cy="396.1" r="2.05" fill="#62b552"/>
<circle cx="146.4" cy="344.8" r="2.05" fill="#5d60b0"/>
<circle cx="73.3" cy="426.9" r="2.05" fill="#62b552"/>
<circle cx="132.8" cy="370.6" r="2.05" fill="#62b552"/>
<circle cx="125.4" cy="384" r="2.05" fill="#62b552"/>
<circle cx="90.4" cy="395.7" r="2.05" fill="#5d60b0"/>
<circle cx="129.6" cy="367" r="2.05" fill="#62b552"/>
<circle cx="150.1" cy="342.8" r="2.05" fill="#5d60b0"/>
<circle cx="115.5" cy="386.2" r="2.05" fill="#62b552"/>
<circle cx="118.6" cy="389.7" r="2.05" fill="#62b552"/>
<circle cx="139.9" cy="348.3" r="2.05" fill="#62b552"/>
<circle cx="105.5" cy="392.3" r="2.05" fill="#62b552"/>
<circle cx="97.3" cy="371.6" r="2.05" fill="#5d60b0"/>
<circle cx="136" cy="356.4" r="2.05" fill="#5d60b0"/>
<circle cx="62.7" cy="431.1" r="2.05" fill="#62b552"/>
<circle cx="125.4" cy="371.3" r="2.05" fill="#5d60b0"/>
<circle cx="102.4" cy="409.7" r="2.05" fill="#62b552"/>
<circle cx="57.7" cy="421.9" r="2.05" fill="#5d60b0"/>
<circle cx="124.1" cy="417" r="2.05" fill="#62b552"/>
<circle cx="76.2" cy="419.8" r="2.05" fill="#5d60b0"/>
<circle cx="92.5" cy="421.9" r="2.05" fill="#62b552"/>
<circle cx="136" cy="355" r="2.05" fill="#62b552"/>
<circle cx="73.3" cy="407" r="2.05" fill="#62b552"/>
<circle cx="95.3" cy="394.3" r="2.05" fill="#62b552"/>
<circle cx="82.1" cy="413.8" r="2.05" fill="#5d60b0"/>
<circle cx="95.3" cy="415.5" r="2.05" fill="#5d60b0"/>
<circle cx="76.6" cy="432.3" r="2.05" fill="#62b552"/>
<circle cx="97.4" cy="420.5" r="2.05" fill="#62b552"/>
<circle cx="117.6" cy="369.9" r="2.05" fill="#5d60b0"/>
<line x1="37.9" y1="456" x2="184.6" y2="309.6" stroke="#111" stroke-width="1.2" />
<line x1="50.9" y1="378.3" x2="57.2" y2="421.4" stroke="#111" stroke-width="1.2" />
<line x1="97.6" y1="340.3" x2="105.2" y2="371.8" stroke="#111" stroke-width="1.2" />
<line x1="82.7" y1="365" x2="96.2" y2="385.6" stroke="#111" stroke-width="1.2" />
<line x1="128.2" y1="331.8" x2="117.5" y2="368.2" stroke="#111" stroke-width="1.2" />
<line x1="71.4" y1="384.9" x2="83.4" y2="404.1" stroke="#111" stroke-width="1.2" />
<line x1="101.2" y1="403.5" x2="125.9" y2="429.5" stroke="#111" stroke-width="1.2" />
<line x1="68" y1="435.5" x2="74.7" y2="442.5" stroke="#111" stroke-width="1.2" />
<line x1="37.9" y1="306.7" x2="37.9" y2="456.6" stroke="#2a2a2a" stroke-width="1.2" />
<line x1="37.3" y1="456" x2="187.6" y2="456" stroke="#2a2a2a" stroke-width="1.2" />
<line x1="34.8" y1="456" x2="37.9" y2="456" stroke="#333" stroke-width="0.9" />
<line x1="37.9" y1="456" x2="37.9" y2="459" stroke="#333" stroke-width="0.9" />
<line x1="34.8" y1="407.2" x2="37.9" y2="407.2" stroke="#333" stroke-width="0.9" />
<line x1="86.78" y1="456" x2="86.78" y2="459" stroke="#333" stroke-width="0.9" />
<line x1="34.8" y1="358.4" x2="37.9" y2="358.4" stroke="#333" stroke-width="0.9" />
<line x1="135.66" y1="456" x2="135.66" y2="459" stroke="#333" stroke-width="0.9" />
<line x1="34.8" y1="309.6" x2="37.9" y2="309.6" stroke="#333" stroke-width="0.9" />
<line x1="184.54" y1="456" x2="184.54" y2="459" stroke="#333" stroke-width="0.9" />
<text x="31.9" y="311.9" font-size="7.3" fill="#141414" stroke="#141414" text-anchor="end" >16</text>
<text x="31.9" y="360.8" font-size="7.3" fill="#141414" stroke="#141414" text-anchor="end" >12</text>
<text x="31.9" y="409.5" font-size="7.3" fill="#141414" stroke="#141414" text-anchor="end" >8</text>
<text x="31.9" y="458.2" font-size="7.3" fill="#141414" stroke="#141414" text-anchor="end" >4</text>
<text x="37.9" y="469.3" font-size="7.3" fill="#141414" stroke="#141414" text-anchor="middle" >4</text>
<text x="86.9" y="469.3" font-size="7.3" fill="#141414" stroke="#141414" text-anchor="middle" >8</text>
<text x="135.5" y="469.3" font-size="7.3" fill="#141414" stroke="#141414" text-anchor="middle" >12</text>
<text x="184.4" y="469.3" font-size="7.3" fill="#141414" stroke="#141414" text-anchor="middle" >16</text>
<text x="47.7" y="483.6" font-size="9.3" fill="#141414" stroke="#141414" textLength="130" lengthAdjust="spacingAndGlyphs" >Control (Log2 expression value)</text>
<text transform="translate(17,458.5) rotate(-90)" x="0" y="0" font-size="9.3" fill="#141414" stroke="#141414" textLength="155.2" lengthAdjust="spacingAndGlyphs" >NUP98-HBO1 (Log2 expression value)</text>
<text x="43.6" y="375.5" font-size="7.6" fill="#5a5aa6" stroke="#5a5aa6" textLength="16.4" lengthAdjust="spacingAndGlyphs" >CCR2</text>
<text x="94.4" y="338.4" font-size="7.6" fill="#5a5aa6" stroke="#5a5aa6" textLength="13.6" lengthAdjust="spacingAndGlyphs" >IRF8</text>
<text x="73.8" y="364" font-size="7.6" fill="#5a5aa6" stroke="#5a5aa6" textLength="15.3" lengthAdjust="spacingAndGlyphs" >KLF4</text>
<text x="125" y="330.6" font-size="7.6" fill="#22a05e" stroke="#22a05e" textLength="24.8" lengthAdjust="spacingAndGlyphs" >CSF2RA</text>
<text x="64" y="383.9" font-size="7.6" fill="#22a05e" stroke="#22a05e" textLength="13.7" lengthAdjust="spacingAndGlyphs" >GFI1</text>
<text x="129.8" y="432.7" font-size="7.6" fill="#22a05e" stroke="#22a05e" textLength="14.8" lengthAdjust="spacingAndGlyphs" >ETS1</text>
<text x="77.8" y="448.2" font-size="7.6" fill="#22a05e" stroke="#22a05e" textLength="15.4" lengthAdjust="spacingAndGlyphs" >PER3</text>
<rect x="154" y="433.1" width="7.9" height="7.5" fill="#4b4b8c" />
<rect x="154" y="445.2" width="7.9" height="7.5" fill="#1a9a5c" />
<text x="165" y="439.4" font-size="7.6" fill="#141414" stroke="#141414" textLength="33.5" lengthAdjust="spacingAndGlyphs" font-style="italic" >Monocytic</text>
<text x="165" y="450.6" font-size="7.6" fill="#141414" stroke="#141414" textLength="40.4" lengthAdjust="spacingAndGlyphs" >Granulocytic</text>
<rect x="0" y="0" width="520" height="1.5" fill="#4a4a4a" />
<rect x="0" y="0" width="1.65" height="493" fill="#4a4a4a" />
<rect x="518.5" y="0" width="1.5" height="493" fill="#4a4a4a" />
<rect x="0" y="491.55" width="520" height="1.45" fill="#4a4a4a" /></svg>
</body></html>
